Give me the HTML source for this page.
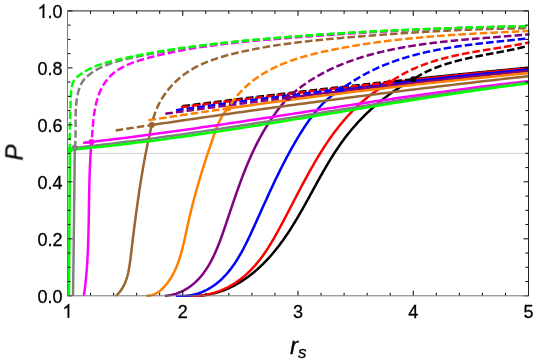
<!DOCTYPE html>
<html><head><meta charset="utf-8"><title>plot</title>
<style>
html,body{margin:0;padding:0;background:#fff;}
svg{display:block;font-family:"Liberation Sans",sans-serif;}
</style></head><body>
<svg width="534" height="362" viewBox="0 0 534 362">
<rect width="534" height="362" fill="#fff"/>
<defs><clipPath id="c"><rect x="66.30" y="9.70" width="463.60" height="287.30"/></clipPath></defs>
<line x1="67.50" x2="528.50" y1="153.35" y2="153.35" stroke="#cfcfcf" stroke-width="1"/>
<g fill="none" stroke-width="2.5" stroke-linejoin="round" clip-path="url(#c)">
<path d="M189.00 295.80 L190.73 295.87 L192.45 295.91 L194.16 295.91 L195.86 295.88 L197.55 295.81 L199.23 295.71 L200.90 295.58 L202.55 295.42 L204.20 295.22 L205.83 294.99 L207.45 294.73 L209.06 294.44 L210.66 294.13 L212.25 293.78 L213.82 293.40 L215.39 292.99 L216.94 292.56 L218.48 292.09 L220.02 291.60 L221.54 291.08 L223.04 290.54 L224.54 289.97 L226.03 289.37 L227.50 288.75 L228.96 288.10 L230.42 287.43 L231.86 286.74 L233.28 286.02 L234.70 285.28 L236.11 284.52 L237.50 283.73 L238.88 282.92 L240.26 282.09 L241.61 281.24 L242.96 280.37 L244.30 279.48 L245.62 278.57 L246.94 277.65 L248.24 276.70 L249.53 275.73 L250.81 274.75 L252.07 273.75 L253.33 272.73 L254.57 271.70 L255.80 270.65 L257.02 269.59 L258.23 268.51 L259.43 267.41 L260.61 266.30 L261.78 265.18 L262.95 264.05 L264.09 262.90 L265.23 261.74 L266.36 260.57 L267.47 259.38 L268.57 258.19 L269.66 256.98 L270.74 255.77 L271.81 254.54 L272.86 253.30 L273.90 252.06 L274.93 250.81 L275.95 249.55 L276.96 248.28 L277.96 247.00 L278.95 245.71 L279.93 244.41 L280.90 243.11 L281.86 241.80 L282.81 240.48 L283.75 239.16 L284.69 237.83 L285.61 236.49 L286.53 235.14 L287.43 233.79 L288.34 232.43 L289.23 231.07 L290.12 229.70 L290.99 228.33 L291.87 226.95 L292.73 225.56 L293.59 224.17 L294.45 222.78 L295.30 221.38 L296.14 219.97 L296.98 218.57 L297.81 217.16 L298.64 215.74 L299.47 214.32 L300.29 212.90 L301.10 211.48 L301.92 210.05 L302.73 208.62 L303.53 207.19 L304.34 205.75 L305.14 204.32 L305.94 202.88 L306.73 201.44 L307.53 200.00 L308.32 198.55 L309.11 197.11 L309.91 195.67 L310.70 194.22 L311.49 192.78 L312.28 191.33 L313.07 189.88 L313.86 188.44 L314.65 187.00 L315.44 185.55 L316.23 184.11 L317.02 182.67 L317.82 181.23 L318.62 179.79 L319.42 178.35 L320.22 176.91 L321.02 175.48 L321.83 174.05 L322.64 172.62 L323.45 171.20 L324.27 169.77 L325.09 168.35 L325.91 166.94 L326.74 165.53 L327.58 164.12 L328.42 162.71 L329.26 161.31 L330.11 159.92 L330.96 158.52 L331.82 157.14 L332.69 155.76 L333.56 154.38 L334.44 153.01 L335.33 151.64 L336.22 150.28 L337.13 148.93 L338.04 147.58 L338.95 146.24 L339.88 144.91 L340.81 143.58 L341.75 142.26 L342.71 140.95 L343.67 139.64 L344.64 138.34 L345.62 137.05 L346.60 135.77 L347.60 134.50 L348.61 133.23 L349.63 131.97 L350.66 130.72 L351.70 129.48 L352.74 128.25 L353.80 127.02 L354.87 125.81 L355.94 124.60 L357.02 123.40 L358.12 122.20 L359.22 121.02 L360.33 119.84 L361.45 118.68 L362.58 117.52 L363.72 116.37 L364.87 115.22 L366.03 114.09 L367.19 112.97 L368.37 111.85 L369.55 110.74 L370.74 109.64 L371.94 108.55 L373.15 107.47 L374.37 106.40 L375.60 105.33 L376.83 104.28 L378.07 103.23 L379.33 102.19 L380.59 101.16 L381.85 100.14 L383.13 99.13 L384.41 98.13 L385.71 97.13 L387.01 96.15 L388.32 95.17 L389.63 94.21 L390.96 93.25 L392.29 92.30 L393.63 91.36 L394.98 90.43 L396.34 89.51 L397.70 88.60 L399.07 87.70 L400.45 86.80 L401.84 85.92 L403.23 85.04 L404.63 84.18 L406.04 83.32 L407.46 82.48 L408.88 81.64 L410.32 80.81 L411.75 80.00 L413.20 79.19 L413.20 79.19 L414.66 79.03 L416.12 78.88 L417.58 78.73 L419.04 78.57 L420.50 78.42 L421.96 78.27 L423.42 78.11 L424.88 77.96 L426.34 77.81 L427.79 77.66 L429.25 77.50 L430.71 77.35 L432.17 77.20 L433.63 77.05 L435.09 76.90 L436.55 76.75 L438.01 76.60 L439.47 76.45 L440.93 76.30 L442.39 76.15 L443.85 76.00 L445.31 75.85 L446.77 75.70 L448.23 75.55 L449.69 75.40 L451.15 75.25 L452.61 75.10 L454.07 74.95 L455.53 74.81 L456.98 74.66 L458.44 74.51 L459.90 74.36 L461.36 74.22 L462.82 74.07 L464.28 73.92 L465.74 73.78 L467.20 73.63 L468.66 73.48 L470.12 73.34 L471.58 73.19 L473.04 73.05 L474.50 72.90 L475.96 72.76 L477.42 72.61 L478.88 72.47 L480.34 72.32 L481.80 72.18 L483.26 72.03 L484.72 71.89 L486.17 71.75 L487.63 71.60 L489.09 71.46 L490.55 71.32 L492.01 71.18 L493.47 71.03 L494.93 70.89 L496.39 70.75 L497.85 70.61 L499.31 70.46 L500.77 70.32 L502.23 70.18 L503.69 70.04 L505.15 69.90 L506.61 69.76 L508.07 69.62 L509.53 69.48 L510.99 69.34 L512.45 69.20 L513.91 69.06 L515.36 68.92 L516.82 68.78 L518.28 68.64 L519.74 68.50 L521.20 68.37 L522.66 68.23 L524.12 68.09 L525.58 67.95 L527.04 67.81 L528.50 67.68" stroke="#000000"/>
<path d="M186.00 295.80 L187.60 295.91 L189.19 295.99 L190.78 296.03 L192.37 296.04 L193.95 296.01 L195.53 295.96 L197.11 295.87 L198.67 295.75 L200.24 295.60 L201.80 295.42 L203.35 295.20 L204.89 294.96 L206.42 294.68 L207.95 294.38 L209.47 294.04 L210.98 293.68 L212.48 293.28 L213.97 292.86 L215.45 292.41 L216.92 291.92 L218.38 291.41 L219.82 290.88 L221.26 290.31 L222.68 289.72 L224.09 289.10 L225.48 288.45 L226.86 287.78 L228.22 287.08 L229.57 286.35 L230.91 285.60 L232.23 284.83 L233.54 284.03 L234.83 283.21 L236.11 282.36 L237.37 281.49 L238.61 280.61 L239.84 279.70 L241.06 278.77 L242.26 277.82 L243.44 276.85 L244.61 275.86 L245.76 274.86 L246.90 273.83 L248.02 272.79 L249.12 271.74 L250.21 270.66 L251.28 269.58 L252.33 268.47 L253.37 267.36 L254.39 266.23 L255.40 265.08 L256.39 263.92 L257.37 262.75 L258.33 261.57 L259.29 260.38 L260.22 259.17 L261.15 257.95 L262.06 256.72 L262.96 255.48 L263.85 254.23 L264.73 252.97 L265.60 251.70 L266.45 250.42 L267.30 249.13 L268.14 247.83 L268.97 246.53 L269.79 245.22 L270.60 243.90 L271.40 242.57 L272.20 241.24 L272.99 239.90 L273.78 238.55 L274.55 237.20 L275.33 235.84 L276.09 234.48 L276.85 233.12 L277.61 231.75 L278.37 230.38 L279.11 229.00 L279.86 227.62 L280.61 226.24 L281.35 224.86 L282.09 223.47 L282.82 222.09 L283.56 220.70 L284.29 219.31 L285.03 217.92 L285.76 216.52 L286.49 215.13 L287.22 213.74 L287.94 212.34 L288.67 210.95 L289.40 209.55 L290.12 208.15 L290.85 206.76 L291.57 205.36 L292.30 203.96 L293.02 202.56 L293.75 201.17 L294.48 199.77 L295.20 198.37 L295.93 196.97 L296.65 195.58 L297.38 194.18 L298.11 192.79 L298.84 191.40 L299.57 190.00 L300.30 188.61 L301.04 187.22 L301.77 185.83 L302.51 184.45 L303.25 183.06 L303.99 181.68 L304.73 180.30 L305.48 178.92 L306.23 177.54 L306.98 176.17 L307.73 174.79 L308.48 173.42 L309.24 172.06 L310.00 170.69 L310.77 169.33 L311.54 167.97 L312.31 166.61 L313.08 165.26 L313.86 163.91 L314.64 162.57 L315.43 161.22 L316.22 159.88 L317.02 158.55 L317.82 157.22 L318.62 155.89 L319.43 154.57 L320.24 153.25 L321.06 151.94 L321.88 150.63 L322.71 149.32 L323.55 148.02 L324.39 146.72 L325.23 145.43 L326.08 144.15 L326.94 142.87 L327.80 141.59 L328.67 140.32 L329.55 139.06 L330.43 137.80 L331.31 136.55 L332.21 135.30 L333.11 134.06 L334.02 132.83 L334.93 131.60 L335.86 130.38 L336.79 129.17 L337.72 127.96 L338.67 126.76 L339.62 125.56 L340.58 124.37 L341.55 123.19 L342.53 122.02 L343.51 120.86 L344.51 119.70 L345.51 118.55 L346.52 117.40 L347.54 116.27 L348.57 115.14 L349.60 114.02 L350.65 112.91 L351.71 111.81 L352.77 110.71 L353.85 109.63 L354.93 108.55 L356.03 107.48 L357.13 106.42 L358.25 105.37 L359.37 104.33 L360.51 103.30 L361.65 102.28 L362.81 101.26 L363.98 100.26 L365.15 99.27 L366.34 98.28 L367.54 97.31 L368.76 96.35 L369.98 95.39 L371.22 94.45 L372.46 93.52 L373.72 92.59 L374.99 91.68 L376.27 90.78 L377.57 89.89 L378.88 89.01 L380.20 88.15 L381.53 87.29 L382.88 86.44 L384.23 85.61 L385.61 84.79 L386.99 83.98 L388.39 83.18 L389.80 82.40 L389.80 82.40 L391.56 82.20 L393.31 82.01 L395.07 81.82 L396.82 81.63 L398.58 81.44 L400.33 81.25 L402.09 81.06 L403.85 80.87 L405.60 80.69 L407.36 80.50 L409.11 80.31 L410.87 80.12 L412.62 79.93 L414.38 79.75 L416.14 79.56 L417.89 79.37 L419.65 79.19 L421.40 79.00 L423.16 78.81 L424.91 78.63 L426.67 78.44 L428.43 78.26 L430.18 78.07 L431.94 77.89 L433.69 77.71 L435.45 77.52 L437.20 77.34 L438.96 77.16 L440.72 76.97 L442.47 76.79 L444.23 76.61 L445.98 76.43 L447.74 76.25 L449.49 76.07 L451.25 75.89 L453.01 75.71 L454.76 75.53 L456.52 75.35 L458.27 75.17 L460.03 74.99 L461.78 74.81 L463.54 74.63 L465.29 74.45 L467.05 74.27 L468.81 74.10 L470.56 73.92 L472.32 73.74 L474.07 73.56 L475.83 73.39 L477.58 73.21 L479.34 73.04 L481.10 72.86 L482.85 72.69 L484.61 72.51 L486.36 72.34 L488.12 72.16 L489.87 71.99 L491.63 71.81 L493.39 71.64 L495.14 71.47 L496.90 71.29 L498.65 71.12 L500.41 70.95 L502.16 70.78 L503.92 70.61 L505.68 70.44 L507.43 70.26 L509.19 70.09 L510.94 69.92 L512.70 69.75 L514.45 69.58 L516.21 69.42 L517.97 69.25 L519.72 69.08 L521.48 68.91 L523.23 68.74 L524.99 68.57 L526.74 68.41 L528.50 68.24" stroke="#ff0000"/>
<path d="M176.00 295.80 L177.53 295.92 L179.05 296.00 L180.55 296.04 L182.04 296.05 L183.51 296.01 L184.97 295.93 L186.41 295.82 L187.84 295.67 L189.26 295.49 L190.65 295.27 L192.04 295.01 L193.40 294.72 L194.76 294.40 L196.09 294.04 L197.42 293.66 L198.72 293.24 L200.01 292.79 L201.29 292.31 L202.55 291.80 L203.79 291.26 L205.02 290.70 L206.23 290.11 L207.42 289.49 L208.60 288.84 L209.76 288.17 L210.91 287.48 L212.04 286.76 L213.15 286.01 L214.25 285.25 L215.33 284.46 L216.39 283.65 L217.44 282.82 L218.47 281.97 L219.48 281.10 L220.48 280.22 L221.46 279.31 L222.43 278.38 L223.38 277.44 L224.31 276.48 L225.23 275.50 L226.14 274.50 L227.03 273.49 L227.91 272.47 L228.78 271.42 L229.63 270.37 L230.47 269.29 L231.30 268.21 L232.11 267.11 L232.92 266.00 L233.71 264.87 L234.49 263.74 L235.26 262.59 L236.02 261.43 L236.77 260.26 L237.51 259.07 L238.24 257.88 L238.96 256.68 L239.67 255.47 L240.38 254.25 L241.07 253.02 L241.76 251.79 L242.44 250.55 L243.11 249.30 L243.77 248.04 L244.43 246.78 L245.08 245.51 L245.72 244.24 L246.36 242.96 L247.00 241.68 L247.62 240.39 L248.25 239.10 L248.86 237.81 L249.48 236.51 L250.09 235.22 L250.69 233.92 L251.30 232.62 L251.89 231.32 L252.49 230.02 L253.09 228.71 L253.68 227.41 L254.27 226.11 L254.86 224.81 L255.44 223.52 L256.03 222.22 L256.61 220.93 L257.20 219.64 L257.78 218.34 L258.36 217.06 L258.94 215.77 L259.52 214.48 L260.10 213.20 L260.67 211.91 L261.25 210.63 L261.83 209.35 L262.41 208.07 L262.98 206.79 L263.56 205.52 L264.14 204.24 L264.71 202.97 L265.29 201.70 L265.87 200.43 L266.44 199.16 L267.02 197.89 L267.60 196.63 L268.18 195.37 L268.76 194.10 L269.34 192.84 L269.92 191.58 L270.50 190.33 L271.09 189.07 L271.67 187.81 L272.26 186.56 L272.85 185.31 L273.43 184.06 L274.02 182.81 L274.62 181.56 L275.21 180.32 L275.81 179.07 L276.40 177.83 L277.00 176.59 L277.60 175.35 L278.21 174.11 L278.81 172.87 L279.42 171.64 L280.03 170.41 L280.65 169.17 L281.26 167.94 L281.88 166.71 L282.51 165.49 L283.13 164.26 L283.76 163.03 L284.39 161.81 L285.02 160.59 L285.66 159.37 L286.30 158.15 L286.95 156.93 L287.60 155.72 L288.25 154.50 L288.90 153.29 L289.56 152.08 L290.23 150.87 L290.90 149.66 L291.57 148.46 L292.24 147.25 L292.92 146.05 L293.61 144.85 L294.30 143.64 L294.99 142.45 L295.69 141.25 L296.40 140.05 L297.11 138.86 L297.82 137.66 L298.54 136.47 L299.26 135.28 L299.99 134.09 L300.73 132.91 L301.47 131.72 L302.21 130.54 L302.97 129.36 L303.73 128.19 L304.49 127.02 L305.27 125.85 L306.05 124.68 L306.83 123.53 L307.63 122.37 L308.43 121.23 L309.24 120.09 L310.06 118.95 L310.89 117.83 L311.73 116.71 L312.58 115.59 L313.43 114.49 L314.30 113.39 L315.18 112.31 L316.06 111.23 L316.96 110.16 L317.87 109.11 L318.78 108.06 L319.71 107.03 L320.65 106.00 L321.60 104.99 L322.57 103.99 L323.54 103.00 L324.53 102.02 L325.53 101.06 L326.55 100.12 L327.57 99.18 L328.61 98.26 L329.67 97.36 L330.73 96.47 L331.81 95.59 L332.91 94.74 L334.02 93.90 L335.15 93.07 L336.29 92.27 L337.44 91.48 L338.61 90.70 L339.80 89.95 L341.00 89.22 L341.00 89.22 L343.37 88.94 L345.75 88.66 L348.12 88.39 L350.49 88.11 L352.87 87.84 L355.24 87.57 L357.61 87.29 L359.99 87.02 L362.36 86.75 L364.73 86.48 L367.11 86.21 L369.48 85.94 L371.85 85.67 L374.23 85.40 L376.60 85.13 L378.97 84.87 L381.35 84.60 L383.72 84.34 L386.09 84.07 L388.47 83.81 L390.84 83.54 L393.22 83.28 L395.59 83.02 L397.96 82.76 L400.34 82.50 L402.71 82.24 L405.08 81.98 L407.46 81.72 L409.83 81.46 L412.20 81.21 L414.58 80.95 L416.95 80.69 L419.32 80.44 L421.70 80.19 L424.07 79.93 L426.44 79.68 L428.82 79.43 L431.19 79.18 L433.56 78.92 L435.94 78.67 L438.31 78.43 L440.68 78.18 L443.06 77.93 L445.43 77.68 L447.80 77.44 L450.18 77.19 L452.55 76.94 L454.92 76.70 L457.30 76.46 L459.67 76.21 L462.04 75.97 L464.42 75.73 L466.79 75.49 L469.16 75.25 L471.54 75.01 L473.91 74.77 L476.28 74.53 L478.66 74.29 L481.03 74.06 L483.41 73.82 L485.78 73.59 L488.15 73.35 L490.53 73.12 L492.90 72.88 L495.27 72.65 L497.65 72.42 L500.02 72.19 L502.39 71.96 L504.77 71.73 L507.14 71.50 L509.51 71.27 L511.89 71.04 L514.26 70.82 L516.63 70.59 L519.01 70.36 L521.38 70.14 L523.75 69.91 L526.13 69.69 L528.50 69.47" stroke="#0000ff"/>
<path d="M165.00 295.80 L166.33 295.68 L167.64 295.53 L168.93 295.34 L170.20 295.12 L171.45 294.87 L172.69 294.59 L173.91 294.28 L175.11 293.95 L176.29 293.58 L177.45 293.18 L178.60 292.76 L179.73 292.31 L180.84 291.84 L181.94 291.34 L183.01 290.82 L184.07 290.27 L185.11 289.70 L186.14 289.11 L187.15 288.49 L188.14 287.86 L189.11 287.20 L190.07 286.53 L191.01 285.84 L191.94 285.12 L192.84 284.40 L193.73 283.65 L194.61 282.89 L195.47 282.11 L196.31 281.31 L197.14 280.50 L197.95 279.68 L198.75 278.84 L199.53 277.98 L200.30 277.11 L201.06 276.23 L201.80 275.33 L202.53 274.42 L203.24 273.49 L203.94 272.55 L204.63 271.60 L205.31 270.64 L205.97 269.67 L206.63 268.68 L207.27 267.68 L207.90 266.67 L208.52 265.65 L209.12 264.63 L209.72 263.59 L210.31 262.54 L210.89 261.48 L211.46 260.41 L212.01 259.34 L212.56 258.25 L213.10 257.16 L213.64 256.06 L214.16 254.95 L214.68 253.84 L215.18 252.71 L215.68 251.59 L216.18 250.45 L216.66 249.31 L217.14 248.17 L217.62 247.02 L218.08 245.86 L218.54 244.70 L219.00 243.54 L219.45 242.37 L219.89 241.20 L220.33 240.02 L220.77 238.84 L221.20 237.66 L221.63 236.48 L222.05 235.30 L222.47 234.11 L222.89 232.92 L223.30 231.73 L223.72 230.54 L224.13 229.35 L224.53 228.16 L224.94 226.97 L225.34 225.78 L225.74 224.60 L226.15 223.41 L226.55 222.22 L226.95 221.04 L227.34 219.85 L227.74 218.67 L228.14 217.49 L228.54 216.31 L228.93 215.13 L229.33 213.95 L229.72 212.78 L230.12 211.60 L230.51 210.43 L230.91 209.26 L231.31 208.08 L231.70 206.91 L232.10 205.75 L232.49 204.58 L232.89 203.41 L233.29 202.25 L233.68 201.09 L234.08 199.93 L234.48 198.77 L234.88 197.61 L235.28 196.45 L235.68 195.30 L236.08 194.14 L236.48 192.99 L236.89 191.84 L237.30 190.69 L237.70 189.54 L238.11 188.40 L238.52 187.25 L238.93 186.11 L239.35 184.97 L239.76 183.83 L240.18 182.69 L240.60 181.56 L241.02 180.42 L241.44 179.29 L241.87 178.16 L242.30 177.03 L242.73 175.90 L243.16 174.78 L243.60 173.65 L244.03 172.53 L244.47 171.41 L244.92 170.30 L245.36 169.18 L245.81 168.07 L246.27 166.95 L246.72 165.84 L247.18 164.74 L247.64 163.63 L248.11 162.52 L248.58 161.42 L249.05 160.32 L249.53 159.22 L250.01 158.13 L250.49 157.03 L250.98 155.94 L251.47 154.85 L251.97 153.76 L252.47 152.68 L252.97 151.60 L253.48 150.51 L253.99 149.44 L254.51 148.36 L255.03 147.28 L255.56 146.21 L256.09 145.14 L256.63 144.07 L257.17 143.01 L257.72 141.94 L258.27 140.88 L258.83 139.82 L259.39 138.77 L259.95 137.71 L260.53 136.66 L261.11 135.61 L261.69 134.57 L262.28 133.52 L262.87 132.48 L263.48 131.44 L264.08 130.40 L264.70 129.37 L265.31 128.34 L265.94 127.31 L266.57 126.28 L267.21 125.26 L267.85 124.24 L268.51 123.22 L269.16 122.20 L269.83 121.19 L270.50 120.18 L271.18 119.17 L271.86 118.16 L272.55 117.16 L273.25 116.16 L273.96 115.16 L274.67 114.17 L275.39 113.17 L276.12 112.18 L276.86 111.20 L277.60 110.21 L278.35 109.23 L279.11 108.25 L279.88 107.28 L280.65 106.31 L281.44 105.34 L282.23 104.37 L283.03 103.41 L283.83 102.45 L284.65 101.49 L285.48 100.53 L286.31 99.58 L287.15 98.63 L288.00 97.69 L288.00 97.69 L291.04 97.31 L294.09 96.93 L297.13 96.55 L300.18 96.18 L303.22 95.80 L306.27 95.43 L309.31 95.06 L312.35 94.69 L315.40 94.32 L318.44 93.95 L321.49 93.58 L324.53 93.21 L327.58 92.85 L330.62 92.48 L333.66 92.12 L336.71 91.75 L339.75 91.39 L342.80 91.03 L345.84 90.67 L348.89 90.31 L351.93 89.95 L354.97 89.60 L358.02 89.24 L361.06 88.89 L364.11 88.53 L367.15 88.18 L370.20 87.83 L373.24 87.48 L376.28 87.13 L379.33 86.78 L382.37 86.43 L385.42 86.08 L388.46 85.74 L391.51 85.39 L394.55 85.05 L397.59 84.70 L400.64 84.36 L403.68 84.02 L406.73 83.68 L409.77 83.34 L412.82 83.01 L415.86 82.67 L418.91 82.33 L421.95 82.00 L424.99 81.66 L428.04 81.33 L431.08 81.00 L434.13 80.67 L437.17 80.34 L440.22 80.01 L443.26 79.68 L446.30 79.36 L449.35 79.03 L452.39 78.71 L455.44 78.38 L458.48 78.06 L461.53 77.74 L464.57 77.42 L467.61 77.10 L470.66 76.78 L473.70 76.46 L476.75 76.15 L479.79 75.83 L482.84 75.52 L485.88 75.20 L488.92 74.89 L491.97 74.58 L495.01 74.27 L498.06 73.96 L501.10 73.65 L504.15 73.34 L507.19 73.04 L510.23 72.73 L513.28 72.43 L516.32 72.12 L519.37 71.82 L522.41 71.52 L525.46 71.22 L528.50 70.92" stroke="#800080"/>
<path d="M146.50 295.80 L147.67 295.79 L148.80 295.70 L149.90 295.56 L150.97 295.35 L152.01 295.09 L153.02 294.77 L154.00 294.40 L154.96 293.98 L155.89 293.52 L156.79 293.02 L157.67 292.47 L158.53 291.89 L159.36 291.28 L160.18 290.63 L160.97 289.96 L161.74 289.27 L162.49 288.55 L163.22 287.82 L163.94 287.07 L164.64 286.31 L165.32 285.54 L165.99 284.76 L166.64 283.96 L167.28 283.15 L167.90 282.34 L168.51 281.51 L169.10 280.67 L169.68 279.82 L170.24 278.96 L170.79 278.09 L171.33 277.21 L171.86 276.33 L172.37 275.43 L172.87 274.52 L173.35 273.61 L173.83 272.69 L174.29 271.75 L174.74 270.81 L175.18 269.87 L175.61 268.91 L176.03 267.95 L176.44 266.98 L176.84 266.00 L177.23 265.02 L177.61 264.03 L177.98 263.04 L178.34 262.03 L178.70 261.03 L179.04 260.01 L179.38 259.00 L179.71 257.97 L180.04 256.95 L180.35 255.91 L180.66 254.88 L180.96 253.84 L181.26 252.79 L181.55 251.74 L181.83 250.69 L182.11 249.63 L182.39 248.58 L182.66 247.51 L182.92 246.45 L183.18 245.39 L183.44 244.32 L183.69 243.25 L183.94 242.18 L184.19 241.10 L184.43 240.03 L184.67 238.95 L184.91 237.88 L185.15 236.80 L185.38 235.72 L185.61 234.65 L185.85 233.57 L186.08 232.49 L186.31 231.42 L186.54 230.34 L186.77 229.27 L187.00 228.20 L187.24 227.13 L187.47 226.06 L187.70 224.99 L187.94 223.93 L188.18 222.87 L188.42 221.81 L188.66 220.75 L188.90 219.69 L189.14 218.64 L189.38 217.59 L189.63 216.54 L189.88 215.49 L190.13 214.44 L190.38 213.40 L190.63 212.36 L190.88 211.32 L191.14 210.28 L191.40 209.24 L191.66 208.21 L191.91 207.17 L192.18 206.14 L192.44 205.11 L192.70 204.08 L192.97 203.06 L193.24 202.03 L193.50 201.01 L193.77 199.98 L194.05 198.96 L194.32 197.94 L194.59 196.92 L194.87 195.90 L195.15 194.89 L195.42 193.87 L195.70 192.85 L195.99 191.84 L196.27 190.83 L196.55 189.82 L196.84 188.80 L197.13 187.79 L197.41 186.78 L197.70 185.78 L198.00 184.77 L198.29 183.76 L198.58 182.75 L198.88 181.75 L199.18 180.74 L199.47 179.74 L199.77 178.73 L200.07 177.73 L200.38 176.72 L200.68 175.72 L200.99 174.72 L201.29 173.71 L201.60 172.71 L201.91 171.71 L202.22 170.70 L202.53 169.70 L202.85 168.70 L203.16 167.70 L203.48 166.69 L203.79 165.69 L204.11 164.69 L204.43 163.68 L204.76 162.68 L205.08 161.68 L205.40 160.67 L205.73 159.67 L206.05 158.66 L206.38 157.66 L206.71 156.65 L207.04 155.65 L207.37 154.64 L207.71 153.63 L208.04 152.63 L208.38 151.62 L208.71 150.61 L209.05 149.60 L209.39 148.59 L209.73 147.57 L210.08 146.56 L210.42 145.55 L210.76 144.53 L211.11 143.52 L211.46 142.50 L211.81 141.48 L212.16 140.46 L212.51 139.44 L212.86 138.42 L213.21 137.40 L213.57 136.38 L213.92 135.35 L214.28 134.32 L214.64 133.30 L215.00 132.27 L215.37 131.24 L215.74 130.22 L216.11 129.19 L216.49 128.17 L216.88 127.16 L217.28 126.15 L217.69 125.15 L218.10 124.15 L218.53 123.16 L218.97 122.18 L219.42 121.21 L219.89 120.24 L220.37 119.29 L220.87 118.36 L221.38 117.43 L221.91 116.52 L222.46 115.62 L223.03 114.74 L223.62 113.88 L224.23 113.03 L224.87 112.20 L225.52 111.39 L226.20 110.60 L226.91 109.83 L227.64 109.08 L228.40 108.35 L228.40 108.35 L232.20 107.81 L236.00 107.28 L239.80 106.74 L243.59 106.21 L247.39 105.68 L251.19 105.16 L254.99 104.63 L258.79 104.11 L262.59 103.59 L266.39 103.07 L270.19 102.56 L273.98 102.05 L277.78 101.54 L281.58 101.03 L285.38 100.52 L289.18 100.02 L292.98 99.52 L296.78 99.02 L300.58 98.53 L304.37 98.04 L308.17 97.54 L311.97 97.06 L315.77 96.57 L319.57 96.09 L323.37 95.61 L327.17 95.13 L330.97 94.65 L334.76 94.18 L338.56 93.70 L342.36 93.23 L346.16 92.77 L349.96 92.30 L353.76 91.84 L357.56 91.38 L361.36 90.92 L365.15 90.47 L368.95 90.02 L372.75 89.57 L376.55 89.12 L380.35 88.67 L384.15 88.23 L387.95 87.79 L391.75 87.35 L395.54 86.91 L399.34 86.48 L403.14 86.05 L406.94 85.62 L410.74 85.19 L414.54 84.77 L418.34 84.35 L422.14 83.93 L425.93 83.51 L429.73 83.10 L433.53 82.69 L437.33 82.28 L441.13 81.87 L444.93 81.46 L448.73 81.06 L452.53 80.66 L456.32 80.26 L460.12 79.87 L463.92 79.47 L467.72 79.08 L471.52 78.69 L475.32 78.31 L479.12 77.93 L482.92 77.54 L486.71 77.17 L490.51 76.79 L494.31 76.41 L498.11 76.04 L501.91 75.67 L505.71 75.31 L509.51 74.94 L513.31 74.58 L517.10 74.22 L520.90 73.86 L524.70 73.51 L528.50 73.16" stroke="#ff8000"/>
<path d="M116.00 295.80 L116.65 295.21 L117.29 294.60 L117.90 293.98 L118.49 293.35 L119.06 292.71 L119.61 292.06 L120.14 291.39 L120.65 290.71 L121.14 290.02 L121.62 289.33 L122.07 288.62 L122.52 287.90 L122.94 287.17 L123.35 286.43 L123.74 285.68 L124.12 284.93 L124.48 284.16 L124.82 283.39 L125.16 282.61 L125.48 281.82 L125.78 281.02 L126.08 280.22 L126.36 279.40 L126.62 278.59 L126.88 277.76 L127.13 276.93 L127.36 276.09 L127.59 275.25 L127.80 274.40 L128.01 273.54 L128.21 272.69 L128.39 271.82 L128.58 270.95 L128.75 270.08 L128.91 269.20 L129.07 268.32 L129.22 267.44 L129.37 266.56 L129.51 265.67 L129.65 264.77 L129.78 263.88 L129.91 262.98 L130.03 262.09 L130.15 261.19 L130.26 260.29 L130.38 259.39 L130.49 258.48 L130.60 257.58 L130.71 256.68 L130.82 255.78 L130.93 254.88 L131.04 253.98 L131.14 253.07 L131.25 252.17 L131.36 251.28 L131.47 250.38 L131.58 249.48 L131.69 248.58 L131.80 247.68 L131.90 246.79 L132.01 245.89 L132.12 245.00 L132.23 244.10 L132.34 243.21 L132.45 242.32 L132.56 241.42 L132.67 240.53 L132.78 239.64 L132.89 238.75 L132.99 237.86 L133.10 236.97 L133.21 236.08 L133.32 235.19 L133.44 234.30 L133.55 233.41 L133.66 232.52 L133.77 231.63 L133.88 230.75 L133.99 229.86 L134.10 228.98 L134.21 228.09 L134.33 227.20 L134.44 226.32 L134.55 225.44 L134.67 224.55 L134.78 223.67 L134.89 222.79 L135.01 221.90 L135.12 221.02 L135.24 220.14 L135.35 219.26 L135.47 218.38 L135.58 217.50 L135.70 216.62 L135.81 215.74 L135.93 214.86 L136.05 213.98 L136.17 213.10 L136.28 212.22 L136.40 211.34 L136.52 210.46 L136.64 209.59 L136.76 208.71 L136.88 207.83 L137.00 206.96 L137.12 206.08 L137.25 205.20 L137.37 204.33 L137.49 203.45 L137.61 202.58 L137.74 201.70 L137.86 200.83 L137.99 199.95 L138.11 199.08 L138.24 198.20 L138.37 197.33 L138.49 196.46 L138.62 195.58 L138.75 194.71 L138.88 193.84 L139.01 192.97 L139.14 192.09 L139.27 191.22 L139.40 190.35 L139.53 189.48 L139.66 188.61 L139.80 187.73 L139.93 186.86 L140.07 185.99 L140.20 185.12 L140.34 184.25 L140.48 183.38 L140.61 182.51 L140.75 181.64 L140.89 180.77 L141.03 179.90 L141.17 179.02 L141.31 178.15 L141.46 177.28 L141.60 176.41 L141.74 175.54 L141.89 174.67 L142.03 173.80 L142.18 172.93 L142.33 172.06 L142.47 171.19 L142.62 170.33 L142.77 169.46 L142.92 168.59 L143.07 167.72 L143.23 166.85 L143.38 165.98 L143.53 165.11 L143.69 164.24 L143.84 163.37 L144.00 162.50 L144.16 161.63 L144.32 160.76 L144.48 159.89 L144.64 159.02 L144.80 158.15 L144.96 157.28 L145.12 156.41 L145.29 155.54 L145.45 154.67 L145.62 153.80 L145.79 152.93 L145.96 152.06 L146.13 151.19 L146.30 150.32 L146.47 149.45 L146.64 148.58 L146.82 147.70 L146.99 146.83 L147.17 145.96 L147.35 145.09 L147.52 144.22 L147.70 143.35 L147.88 142.47 L148.07 141.60 L148.25 140.73 L148.43 139.86 L148.62 138.99 L148.80 138.11 L148.99 137.24 L149.18 136.37 L149.37 135.49 L149.56 134.62 L149.76 133.75 L149.95 132.87 L150.14 132.00 L150.34 131.12 L150.54 130.25 L150.74 129.37 L150.94 128.50 L151.14 127.62 L151.34 126.74 L151.54 125.87 L151.75 124.99 L151.75 124.99 L156.52 124.28 L161.29 123.57 L166.06 122.87 L170.83 122.16 L175.59 121.46 L180.36 120.77 L185.13 120.07 L189.90 119.38 L194.67 118.68 L199.44 118.00 L204.21 117.31 L208.98 116.62 L213.75 115.94 L218.52 115.26 L223.28 114.59 L228.05 113.91 L232.82 113.24 L237.59 112.57 L242.36 111.90 L247.13 111.24 L251.90 110.57 L256.67 109.91 L261.44 109.25 L266.21 108.60 L270.97 107.95 L275.74 107.29 L280.51 106.65 L285.28 106.00 L290.05 105.36 L294.82 104.71 L299.59 104.08 L304.36 103.44 L309.13 102.80 L313.90 102.17 L318.66 101.54 L323.43 100.92 L328.20 100.29 L332.97 99.67 L337.74 99.05 L342.51 98.43 L347.28 97.82 L352.05 97.20 L356.82 96.59 L361.59 95.98 L366.35 95.38 L371.12 94.77 L375.89 94.17 L380.66 93.57 L385.43 92.98 L390.20 92.38 L394.97 91.79 L399.74 91.20 L404.51 90.62 L409.28 90.03 L414.04 89.45 L418.81 88.87 L423.58 88.29 L428.35 87.72 L433.12 87.15 L437.89 86.58 L442.66 86.01 L447.43 85.44 L452.20 84.88 L456.97 84.32 L461.73 83.76 L466.50 83.20 L471.27 82.65 L476.04 82.10 L480.81 81.55 L485.58 81.00 L490.35 80.46 L495.12 79.92 L499.89 79.38 L504.66 78.84 L509.42 78.31 L514.19 77.78 L518.96 77.25 L523.73 76.72 L528.50 76.19" stroke="#996633"/>
<path d="M83.90 295.80 L84.01 295.03 L84.12 294.27 L84.22 293.50 L84.32 292.73 L84.43 291.96 L84.53 291.20 L84.62 290.43 L84.72 289.66 L84.82 288.89 L84.91 288.13 L85.00 287.36 L85.09 286.59 L85.18 285.82 L85.27 285.05 L85.36 284.28 L85.44 283.51 L85.52 282.75 L85.60 281.98 L85.68 281.21 L85.76 280.44 L85.84 279.67 L85.92 278.90 L85.99 278.13 L86.06 277.36 L86.14 276.59 L86.21 275.82 L86.27 275.05 L86.34 274.28 L86.41 273.51 L86.47 272.74 L86.54 271.97 L86.60 271.20 L86.66 270.42 L86.72 269.65 L86.78 268.88 L86.84 268.11 L86.90 267.34 L86.95 266.57 L87.01 265.80 L87.06 265.02 L87.11 264.25 L87.16 263.48 L87.21 262.71 L87.26 261.94 L87.31 261.16 L87.36 260.39 L87.40 259.62 L87.45 258.85 L87.49 258.07 L87.53 257.30 L87.57 256.53 L87.62 255.76 L87.66 254.98 L87.69 254.21 L87.73 253.44 L87.77 252.66 L87.81 251.89 L87.84 251.12 L87.88 250.34 L87.91 249.57 L87.94 248.80 L87.98 248.02 L88.01 247.25 L88.04 246.48 L88.07 245.70 L88.10 244.93 L88.13 244.15 L88.15 243.38 L88.18 242.61 L88.21 241.83 L88.23 241.06 L88.26 240.28 L88.28 239.51 L88.31 238.73 L88.33 237.96 L88.35 237.19 L88.37 236.41 L88.40 235.64 L88.42 234.86 L88.44 234.09 L88.46 233.31 L88.48 232.54 L88.50 231.76 L88.51 230.99 L88.53 230.21 L88.55 229.44 L88.57 228.66 L88.58 227.89 L88.60 227.11 L88.62 226.34 L88.63 225.56 L88.65 224.79 L88.66 224.01 L88.68 223.24 L88.69 222.46 L88.71 221.68 L88.72 220.91 L88.73 220.13 L88.75 219.36 L88.76 218.58 L88.77 217.81 L88.79 217.03 L88.80 216.26 L88.81 215.48 L88.82 214.71 L88.84 213.93 L88.85 213.15 L88.86 212.38 L88.87 211.60 L88.88 210.83 L88.90 210.05 L88.91 209.28 L88.92 208.50 L88.93 207.72 L88.94 206.95 L88.95 206.17 L88.97 205.40 L88.98 204.62 L88.99 203.85 L89.00 203.07 L89.01 202.29 L89.03 201.52 L89.04 200.74 L89.05 199.97 L89.06 199.19 L89.08 198.42 L89.09 197.64 L89.10 196.86 L89.12 196.09 L89.13 195.31 L89.14 194.54 L89.16 193.76 L89.17 192.99 L89.19 192.21 L89.20 191.43 L89.22 190.66 L89.23 189.88 L89.25 189.11 L89.27 188.33 L89.28 187.56 L89.30 186.78 L89.32 186.01 L89.34 185.23 L89.35 184.46 L89.37 183.68 L89.39 182.91 L89.41 182.13 L89.43 181.36 L89.45 180.58 L89.48 179.81 L89.50 179.03 L89.52 178.26 L89.54 177.48 L89.57 176.71 L89.59 175.93 L89.62 175.16 L89.64 174.38 L89.67 173.61 L89.70 172.83 L89.72 172.06 L89.75 171.28 L89.78 170.51 L89.81 169.73 L89.84 168.96 L89.87 168.18 L89.90 167.41 L89.94 166.64 L89.97 165.86 L90.01 165.09 L90.04 164.31 L90.08 163.54 L90.11 162.77 L90.15 161.99 L90.19 161.22 L90.23 160.44 L90.27 159.67 L90.31 158.90 L90.36 158.12 L90.40 157.35 L90.44 156.58 L90.49 155.80 L90.54 155.03 L90.58 154.26 L90.63 153.49 L90.68 152.71 L90.73 151.94 L90.79 151.17 L90.84 150.39 L90.89 149.62 L90.95 148.85 L91.00 148.08 L91.06 147.31 L91.12 146.53 L91.18 145.76 L91.24 144.99 L91.31 144.22 L91.37 143.45 L91.43 142.67 L91.50 141.90 L91.50 141.90 L97.03 141.26 L102.56 140.61 L108.09 139.94 L113.63 139.27 L119.16 138.58 L124.69 137.89 L130.22 137.19 L135.75 136.48 L141.28 135.76 L146.82 135.03 L152.35 134.29 L157.88 133.55 L163.41 132.80 L168.94 132.04 L174.47 131.27 L180.01 130.50 L185.54 129.72 L191.07 128.94 L196.60 128.15 L202.13 127.35 L207.66 126.55 L213.20 125.75 L218.73 124.94 L224.26 124.12 L229.79 123.30 L235.32 122.48 L240.85 121.66 L246.39 120.83 L251.92 120.00 L257.45 119.16 L262.98 118.33 L268.51 117.49 L274.04 116.65 L279.58 115.81 L285.11 114.97 L290.64 114.13 L296.17 113.28 L301.70 112.44 L307.23 111.59 L312.77 110.75 L318.30 109.91 L323.83 109.07 L329.36 108.23 L334.89 107.39 L340.42 106.55 L345.96 105.72 L351.49 104.88 L357.02 104.05 L362.55 103.23 L368.08 102.40 L373.61 101.58 L379.15 100.77 L384.68 99.95 L390.21 99.15 L395.74 98.34 L401.27 97.54 L406.80 96.75 L412.34 95.96 L417.87 95.18 L423.40 94.41 L428.93 93.64 L434.46 92.87 L439.99 92.12 L445.53 91.37 L451.06 90.63 L456.59 89.90 L462.12 89.17 L467.65 88.45 L473.18 87.75 L478.72 87.05 L484.25 86.36 L489.78 85.68 L495.31 85.01 L500.84 84.35 L506.37 83.70 L511.91 83.06 L517.44 82.43 L522.97 81.82 L528.50 81.21" stroke="#ff00ff"/>
<path d="M83.00 142.87 L91.50 141.90" stroke="#ff00ff"/>
<path d="M73.00 295.80 L73.01 295.06 L73.02 294.31 L73.03 293.57 L73.04 292.82 L73.05 292.08 L73.06 291.34 L73.07 290.59 L73.09 289.85 L73.10 289.10 L73.11 288.36 L73.12 287.62 L73.13 286.87 L73.14 286.13 L73.15 285.38 L73.16 284.64 L73.17 283.89 L73.18 283.15 L73.19 282.41 L73.20 281.66 L73.21 280.92 L73.22 280.17 L73.23 279.43 L73.24 278.69 L73.25 277.94 L73.26 277.20 L73.27 276.45 L73.28 275.71 L73.29 274.97 L73.30 274.22 L73.31 273.48 L73.32 272.73 L73.33 271.99 L73.34 271.25 L73.35 270.50 L73.36 269.76 L73.37 269.01 L73.38 268.27 L73.39 267.52 L73.40 266.78 L73.41 266.04 L73.42 265.29 L73.43 264.55 L73.44 263.80 L73.45 263.06 L73.46 262.32 L73.47 261.57 L73.48 260.83 L73.49 260.08 L73.50 259.34 L73.51 258.60 L73.52 257.85 L73.53 257.11 L73.54 256.36 L73.55 255.62 L73.56 254.87 L73.57 254.13 L73.58 253.39 L73.59 252.64 L73.59 251.90 L73.60 251.15 L73.61 250.41 L73.62 249.67 L73.63 248.92 L73.64 248.18 L73.65 247.43 L73.66 246.69 L73.67 245.95 L73.68 245.20 L73.69 244.46 L73.70 243.71 L73.71 242.97 L73.72 242.23 L73.73 241.48 L73.74 240.74 L73.74 239.99 L73.75 239.25 L73.76 238.50 L73.77 237.76 L73.78 237.02 L73.79 236.27 L73.80 235.53 L73.81 234.78 L73.82 234.04 L73.83 233.30 L73.84 232.55 L73.84 231.81 L73.85 231.06 L73.86 230.32 L73.87 229.58 L73.88 228.83 L73.89 228.09 L73.90 227.34 L73.91 226.60 L73.92 225.85 L73.93 225.11 L73.93 224.37 L73.94 223.62 L73.95 222.88 L73.96 222.13 L73.97 221.39 L73.98 220.65 L73.99 219.90 L74.00 219.16 L74.01 218.41 L74.01 217.67 L74.02 216.93 L74.03 216.18 L74.04 215.44 L74.05 214.69 L74.06 213.95 L74.07 213.20 L74.08 212.46 L74.08 211.72 L74.09 210.97 L74.10 210.23 L74.11 209.48 L74.12 208.74 L74.13 208.00 L74.14 207.25 L74.14 206.51 L74.15 205.76 L74.16 205.02 L74.17 204.28 L74.18 203.53 L74.19 202.79 L74.20 202.04 L74.20 201.30 L74.21 200.56 L74.22 199.81 L74.23 199.07 L74.24 198.32 L74.25 197.58 L74.26 196.83 L74.26 196.09 L74.27 195.35 L74.28 194.60 L74.29 193.86 L74.30 193.11 L74.31 192.37 L74.31 191.63 L74.32 190.88 L74.33 190.14 L74.34 189.39 L74.35 188.65 L74.36 187.91 L74.36 187.16 L74.37 186.42 L74.38 185.67 L74.39 184.93 L74.40 184.18 L74.41 183.44 L74.41 182.70 L74.42 181.95 L74.43 181.21 L74.44 180.46 L74.45 179.72 L74.46 178.98 L74.46 178.23 L74.47 177.49 L74.48 176.74 L74.49 176.00 L74.50 175.26 L74.51 174.51 L74.51 173.77 L74.52 173.02 L74.53 172.28 L74.54 171.53 L74.55 170.79 L74.56 170.05 L74.56 169.30 L74.57 168.56 L74.58 167.81 L74.59 167.07 L74.60 166.33 L74.60 165.58 L74.61 164.84 L74.62 164.09 L74.63 163.35 L74.64 162.61 L74.65 161.86 L74.65 161.12 L74.66 160.37 L74.67 159.63 L74.68 158.88 L74.69 158.14 L74.69 157.40 L74.70 156.65 L74.71 155.91 L74.72 155.16 L74.73 154.42 L74.73 153.68 L74.74 152.93 L74.75 152.19 L74.76 151.44 L74.77 150.70 L74.78 149.96 L74.78 149.21 L74.79 148.47 L74.80 147.72 L74.80 147.72 L80.54 147.13 L86.29 146.52 L92.03 145.90 L97.77 145.26 L103.52 144.60 L109.26 143.93 L115.00 143.25 L120.74 142.56 L126.49 141.85 L132.23 141.13 L137.97 140.40 L143.72 139.65 L149.46 138.90 L155.20 138.13 L160.95 137.35 L166.69 136.56 L172.43 135.76 L178.17 134.96 L183.92 134.14 L189.66 133.31 L195.40 132.48 L201.15 131.64 L206.89 130.79 L212.63 129.93 L218.38 129.06 L224.12 128.19 L229.86 127.32 L235.61 126.43 L241.35 125.54 L247.09 124.65 L252.83 123.75 L258.58 122.85 L264.32 121.94 L270.06 121.03 L275.81 120.12 L281.55 119.20 L287.29 118.28 L293.04 117.36 L298.78 116.44 L304.52 115.51 L310.26 114.59 L316.01 113.66 L321.75 112.74 L327.49 111.81 L333.24 110.89 L338.98 109.96 L344.72 109.04 L350.47 108.12 L356.21 107.20 L361.95 106.28 L367.69 105.36 L373.44 104.45 L379.18 103.55 L384.92 102.64 L390.67 101.74 L396.41 100.85 L402.15 99.96 L407.90 99.07 L413.64 98.19 L419.38 97.32 L425.13 96.45 L430.87 95.60 L436.61 94.74 L442.35 93.90 L448.10 93.06 L453.84 92.23 L459.58 91.41 L465.33 90.60 L471.07 89.80 L476.81 89.01 L482.56 88.23 L488.30 87.46 L494.04 86.70 L499.78 85.96 L505.53 85.22 L511.27 84.50 L517.01 83.79 L522.76 83.09 L528.50 82.40" stroke="#808080"/>
<path d="M69.00 295.80 L69.00 295.07 L69.01 294.33 L69.01 293.60 L69.01 292.87 L69.02 292.13 L69.02 291.40 L69.02 290.66 L69.03 289.93 L69.03 289.20 L69.03 288.46 L69.04 287.73 L69.04 287.00 L69.04 286.26 L69.05 285.53 L69.05 284.79 L69.05 284.06 L69.06 283.33 L69.06 282.59 L69.06 281.86 L69.07 281.13 L69.07 280.39 L69.07 279.66 L69.08 278.92 L69.08 278.19 L69.08 277.46 L69.09 276.72 L69.09 275.99 L69.10 275.26 L69.10 274.52 L69.10 273.79 L69.11 273.05 L69.11 272.32 L69.11 271.59 L69.12 270.85 L69.12 270.12 L69.13 269.39 L69.13 268.65 L69.13 267.92 L69.14 267.19 L69.14 266.45 L69.15 265.72 L69.15 264.98 L69.15 264.25 L69.16 263.52 L69.16 262.78 L69.17 262.05 L69.17 261.32 L69.18 260.58 L69.18 259.85 L69.18 259.11 L69.19 258.38 L69.19 257.65 L69.20 256.91 L69.20 256.18 L69.21 255.45 L69.21 254.71 L69.21 253.98 L69.22 253.24 L69.22 252.51 L69.23 251.78 L69.23 251.04 L69.24 250.31 L69.24 249.58 L69.25 248.84 L69.25 248.11 L69.25 247.38 L69.26 246.64 L69.26 245.91 L69.27 245.17 L69.27 244.44 L69.28 243.71 L69.28 242.97 L69.29 242.24 L69.29 241.51 L69.30 240.77 L69.30 240.04 L69.30 239.30 L69.31 238.57 L69.31 237.84 L69.32 237.10 L69.32 236.37 L69.33 235.64 L69.33 234.90 L69.34 234.17 L69.35 233.43 L69.35 232.70 L69.36 231.97 L69.36 231.23 L69.37 230.50 L69.37 229.77 L69.38 229.03 L69.39 228.30 L69.39 227.57 L69.40 226.83 L69.40 226.10 L69.41 225.36 L69.42 224.63 L69.42 223.90 L69.43 223.16 L69.43 222.43 L69.44 221.70 L69.45 220.96 L69.45 220.23 L69.46 219.49 L69.47 218.76 L69.47 218.03 L69.48 217.29 L69.48 216.56 L69.49 215.83 L69.50 215.09 L69.50 214.36 L69.51 213.63 L69.51 212.89 L69.52 212.16 L69.52 211.42 L69.53 210.69 L69.54 209.96 L69.54 209.22 L69.55 208.49 L69.55 207.76 L69.56 207.02 L69.56 206.29 L69.57 205.55 L69.57 204.82 L69.58 204.09 L69.58 203.35 L69.59 202.62 L69.59 201.89 L69.59 201.15 L69.60 200.42 L69.60 199.68 L69.61 198.95 L69.61 198.22 L69.61 197.48 L69.62 196.75 L69.62 196.02 L69.62 195.28 L69.63 194.55 L69.63 193.82 L69.64 193.08 L69.64 192.35 L69.64 191.61 L69.65 190.88 L69.65 190.15 L69.65 189.41 L69.66 188.68 L69.66 187.95 L69.66 187.21 L69.67 186.48 L69.67 185.74 L69.68 185.01 L69.68 184.28 L69.68 183.54 L69.69 182.81 L69.69 182.08 L69.69 181.34 L69.70 180.61 L69.70 179.87 L69.70 179.14 L69.71 178.41 L69.71 177.67 L69.71 176.94 L69.71 176.21 L69.72 175.47 L69.72 174.74 L69.72 174.01 L69.73 173.27 L69.73 172.54 L69.73 171.80 L69.74 171.07 L69.74 170.34 L69.74 169.60 L69.74 168.87 L69.75 168.14 L69.75 167.40 L69.75 166.67 L69.75 165.93 L69.76 165.20 L69.76 164.47 L69.76 163.73 L69.76 163.00 L69.77 162.27 L69.77 161.53 L69.77 160.80 L69.77 160.06 L69.78 159.33 L69.78 158.60 L69.78 157.86 L69.78 157.13 L69.78 156.40 L69.79 155.66 L69.79 154.93 L69.79 154.19 L69.79 153.46 L69.79 152.73 L69.80 151.99 L69.80 151.26 L69.80 150.53 L69.80 149.79 L69.80 149.79 L75.61 149.27 L81.41 148.74 L87.22 148.18 L93.03 147.60 L98.83 147.01 L104.64 146.40 L110.44 145.77 L116.25 145.12 L122.06 144.46 L127.86 143.78 L133.67 143.09 L139.48 142.38 L145.28 141.66 L151.09 140.92 L156.89 140.17 L162.70 139.40 L168.51 138.63 L174.31 137.84 L180.12 137.04 L185.93 136.22 L191.73 135.40 L197.54 134.56 L203.35 133.72 L209.15 132.86 L214.96 132.00 L220.76 131.12 L226.57 130.24 L232.38 129.35 L238.18 128.45 L243.99 127.54 L249.80 126.63 L255.60 125.71 L261.41 124.79 L267.22 123.86 L273.02 122.92 L278.83 121.98 L284.63 121.04 L290.44 120.09 L296.25 119.14 L302.05 118.18 L307.86 117.23 L313.67 116.27 L319.47 115.31 L325.28 114.35 L331.08 113.38 L336.89 112.42 L342.70 111.46 L348.50 110.50 L354.31 109.53 L360.12 108.57 L365.92 107.62 L371.73 106.66 L377.54 105.71 L383.34 104.76 L389.15 103.81 L394.95 102.87 L400.76 101.93 L406.57 101.00 L412.37 100.07 L418.18 99.15 L423.99 98.23 L429.79 97.33 L435.60 96.42 L441.41 95.53 L447.21 94.64 L453.02 93.76 L458.82 92.89 L464.63 92.03 L470.44 91.18 L476.24 90.34 L482.05 89.51 L487.86 88.70 L493.66 87.89 L499.47 87.09 L505.27 86.31 L511.08 85.54 L516.89 84.78 L522.69 84.04 L528.50 83.31" stroke="#00ff00"/>
</g>
<g fill="none" stroke-width="2.5" stroke-linejoin="round" stroke-dasharray="5.1 5.58" stroke-linecap="square" clip-path="url(#c)">
<path d="M183.60 106.08 L191.52 105.07 L199.43 104.06 L207.35 103.05 L215.27 102.06 L223.19 101.07 L231.10 100.08 L239.02 99.11 L246.94 98.13 L254.86 97.17 L262.77 96.21 L270.69 95.26 L278.61 94.31 L286.52 93.37 L294.44 92.44 L302.36 91.51 L310.28 90.59 L318.19 89.67 L326.11 88.77 L334.03 87.86 L341.94 86.97 L349.86 86.08 L357.78 85.19 L365.70 84.32 L373.61 83.45 L381.53 82.58 L389.45 81.72 L397.37 80.87 L405.28 80.03 L413.20 79.19 L413.20 79.19 L413.60 78.93 L413.99 78.68 L414.39 78.42 L414.79 78.17 L415.19 77.93 L415.59 77.68 L415.99 77.43 L416.39 77.19 L416.79 76.95 L417.19 76.71 L417.60 76.47 L418.00 76.24 L418.41 76.00 L418.81 75.77 L419.22 75.54 L419.63 75.31 L420.03 75.08 L420.44 74.86 L420.85 74.64 L421.26 74.41 L421.67 74.19 L422.08 73.97 L422.49 73.76 L422.91 73.54 L423.32 73.33 L423.73 73.12 L424.15 72.91 L424.56 72.70 L424.98 72.49 L425.40 72.28 L425.81 72.08 L426.23 71.88 L426.65 71.68 L427.07 71.48 L427.49 71.28 L427.91 71.08 L428.33 70.89 L428.75 70.69 L429.17 70.50 L429.60 70.31 L430.02 70.12 L430.44 69.93 L430.87 69.75 L431.29 69.56 L431.72 69.38 L432.15 69.20 L432.57 69.02 L433.00 68.84 L433.43 68.66 L433.86 68.49 L434.29 68.31 L434.72 68.14 L435.15 67.97 L435.58 67.79 L436.01 67.63 L436.44 67.46 L436.87 67.29 L437.30 67.12 L437.74 66.96 L438.17 66.80 L438.61 66.64 L439.04 66.47 L439.48 66.32 L439.91 66.16 L440.35 66.00 L440.79 65.85 L441.22 65.69 L441.66 65.54 L442.10 65.39 L442.54 65.23 L442.98 65.08 L443.42 64.94 L443.86 64.79 L444.30 64.64 L444.74 64.50 L445.18 64.35 L445.62 64.21 L446.06 64.07 L446.51 63.93 L446.95 63.79 L447.39 63.65 L447.84 63.51 L448.28 63.37 L448.73 63.24 L449.17 63.10 L449.62 62.97 L450.06 62.84 L450.51 62.71 L450.95 62.58 L451.40 62.45 L451.85 62.32 L452.30 62.19 L452.74 62.06 L453.19 61.94 L453.64 61.81 L454.09 61.69 L454.54 61.56 L454.99 61.44 L455.44 61.32 L455.89 61.20 L456.34 61.08 L456.79 60.96 L457.24 60.84 L457.70 60.73 L458.15 60.61 L458.60 60.49 L459.05 60.38 L459.51 60.26 L459.96 60.15 L460.41 60.04 L460.87 59.93 L461.32 59.81 L461.77 59.70 L462.23 59.59 L462.68 59.49 L463.14 59.38 L463.59 59.27 L464.05 59.16 L464.51 59.06 L464.96 58.95 L465.42 58.84 L465.87 58.74 L466.33 58.64 L466.79 58.53 L467.24 58.43 L467.70 58.33 L468.16 58.23 L468.62 58.13 L469.08 58.03 L469.53 57.93 L469.99 57.83 L470.45 57.73 L470.91 57.63 L471.37 57.53 L471.83 57.43 L472.29 57.34 L472.74 57.24 L473.20 57.15 L473.66 57.05 L474.12 56.96 L474.58 56.86 L475.04 56.77 L475.50 56.67 L475.96 56.58 L476.42 56.49 L476.88 56.39 L477.34 56.30 L477.81 56.21 L478.27 56.12 L478.73 56.03 L479.19 55.94 L479.65 55.85 L480.11 55.76 L480.57 55.67 L481.03 55.58 L481.49 55.49 L481.95 55.40 L482.42 55.31 L482.88 55.22 L483.34 55.13 L483.80 55.04 L484.26 54.96 L484.72 54.87 L485.19 54.78 L485.65 54.69 L486.11 54.61 L486.57 54.52 L487.03 54.43 L487.49 54.35 L487.96 54.26 L488.42 54.17 L488.88 54.09 L489.34 54.00 L489.80 53.91 L490.26 53.83 L490.73 53.74 L491.19 53.66 L491.65 53.57 L492.11 53.48 L492.57 53.40 L493.03 53.31 L493.50 53.23 L493.96 53.14 L494.42 53.05 L494.88 52.97 L495.34 52.88 L495.80 52.80 L496.26 52.71 L496.72 52.62 L497.18 52.54 L497.65 52.45 L498.11 52.37 L498.57 52.28 L499.03 52.19 L499.49 52.11 L499.95 52.02 L500.41 51.93 L500.87 51.84 L501.33 51.76 L501.79 51.67 L502.25 51.58 L502.71 51.49 L503.16 51.41 L503.62 51.32 L504.08 51.23 L504.54 51.14 L505.00 51.05 L505.46 50.96 L505.92 50.87 L506.38 50.78 L506.83 50.69 L507.29 50.60 L507.75 50.51 L508.21 50.42 L508.66 50.33 L509.12 50.23 L509.58 50.14 L510.03 50.05 L510.49 49.96 L510.94 49.86 L511.40 49.77 L511.86 49.67 L512.31 49.58 L512.77 49.48 L513.22 49.39 L513.68 49.29 L514.13 49.20 L514.58 49.10 L515.04 49.00 L515.49 48.90 L515.94 48.81 L516.40 48.71 L516.85 48.61 L517.30 48.51 L517.75 48.41 L518.21 48.30 L518.66 48.20 L519.11 48.10 L519.56 48.00 L520.01 47.89 L520.46 47.79 L520.91 47.69 L521.36 47.58 L521.81 47.47 L522.26 47.37 L522.70 47.26 L523.15 47.15 L523.60 47.04 L524.05 46.93 L524.49 46.82 L524.94 46.71 L525.39 46.60 L525.83 46.49 L526.28 46.38 L526.72 46.26 L527.17 46.15 L527.61 46.03 L528.06 45.92 L528.50 45.80" stroke="#000000" stroke-dashoffset="0.00"/>
<path d="M182.20 107.19 L189.36 106.26 L196.52 105.34 L203.68 104.43 L210.83 103.51 L217.99 102.61 L225.15 101.71 L232.31 100.81 L239.47 99.92 L246.63 99.03 L253.79 98.15 L260.94 97.28 L268.10 96.41 L275.26 95.54 L282.42 94.68 L289.58 93.83 L296.74 92.98 L303.90 92.13 L311.06 91.29 L318.21 90.46 L325.37 89.63 L332.53 88.80 L339.69 87.99 L346.85 87.17 L354.01 86.36 L361.17 85.56 L368.32 84.76 L375.48 83.97 L382.64 83.18 L389.80 82.40 L389.80 82.40 L390.27 82.06 L390.74 81.73 L391.21 81.40 L391.68 81.08 L392.15 80.75 L392.62 80.43 L393.09 80.12 L393.57 79.80 L394.04 79.49 L394.52 79.17 L395.00 78.86 L395.47 78.56 L395.95 78.25 L396.43 77.95 L396.91 77.65 L397.40 77.35 L397.88 77.06 L398.36 76.76 L398.85 76.47 L399.33 76.19 L399.82 75.90 L400.31 75.61 L400.79 75.33 L401.28 75.05 L401.77 74.78 L402.26 74.50 L402.76 74.23 L403.25 73.95 L403.74 73.69 L404.24 73.42 L404.73 73.15 L405.23 72.89 L405.72 72.63 L406.22 72.37 L406.72 72.11 L407.22 71.86 L407.72 71.61 L408.22 71.36 L408.72 71.11 L409.22 70.86 L409.73 70.62 L410.23 70.37 L410.74 70.13 L411.24 69.89 L411.75 69.66 L412.26 69.42 L412.76 69.19 L413.27 68.96 L413.78 68.73 L414.29 68.50 L414.80 68.28 L415.31 68.05 L415.83 67.83 L416.34 67.61 L416.85 67.39 L417.37 67.17 L417.88 66.96 L418.40 66.75 L418.91 66.53 L419.43 66.33 L419.95 66.12 L420.47 65.91 L420.99 65.71 L421.51 65.50 L422.03 65.30 L422.55 65.10 L423.07 64.91 L423.59 64.71 L424.11 64.51 L424.64 64.32 L425.16 64.13 L425.69 63.94 L426.21 63.75 L426.74 63.57 L427.26 63.38 L427.79 63.20 L428.32 63.01 L428.85 62.83 L429.38 62.65 L429.91 62.48 L430.44 62.30 L430.97 62.13 L431.50 61.95 L432.03 61.78 L432.56 61.61 L433.10 61.44 L433.63 61.27 L434.16 61.11 L434.70 60.94 L435.23 60.78 L435.77 60.62 L436.30 60.46 L436.84 60.30 L437.38 60.14 L437.91 59.98 L438.45 59.83 L438.99 59.67 L439.53 59.52 L440.07 59.37 L440.61 59.22 L441.15 59.07 L441.69 58.92 L442.23 58.77 L442.77 58.63 L443.31 58.48 L443.86 58.34 L444.40 58.20 L444.94 58.06 L445.49 57.92 L446.03 57.78 L446.57 57.64 L447.12 57.51 L447.66 57.37 L448.21 57.24 L448.76 57.10 L449.30 56.97 L449.85 56.84 L450.40 56.71 L450.94 56.58 L451.49 56.45 L452.04 56.32 L452.59 56.20 L453.14 56.07 L453.69 55.95 L454.24 55.82 L454.79 55.70 L455.34 55.58 L455.89 55.46 L456.44 55.34 L456.99 55.22 L457.54 55.10 L458.09 54.98 L458.64 54.87 L459.19 54.75 L459.75 54.64 L460.30 54.52 L460.85 54.41 L461.40 54.30 L461.96 54.19 L462.51 54.07 L463.07 53.96 L463.62 53.85 L464.17 53.75 L464.73 53.64 L465.28 53.53 L465.84 53.42 L466.39 53.32 L466.95 53.21 L467.50 53.11 L468.06 53.00 L468.62 52.90 L469.17 52.80 L469.73 52.69 L470.28 52.59 L470.84 52.49 L471.40 52.39 L471.95 52.29 L472.51 52.19 L473.07 52.09 L473.63 51.99 L474.18 51.89 L474.74 51.79 L475.30 51.70 L475.86 51.60 L476.41 51.50 L476.97 51.41 L477.53 51.31 L478.09 51.22 L478.65 51.12 L479.20 51.03 L479.76 50.93 L480.32 50.84 L480.88 50.75 L481.44 50.65 L482.00 50.56 L482.55 50.47 L483.11 50.37 L483.67 50.28 L484.23 50.19 L484.79 50.10 L485.35 50.01 L485.91 49.92 L486.46 49.83 L487.02 49.74 L487.58 49.65 L488.14 49.56 L488.70 49.47 L489.26 49.38 L489.82 49.29 L490.37 49.20 L490.93 49.11 L491.49 49.02 L492.05 48.93 L492.61 48.84 L493.17 48.75 L493.72 48.66 L494.28 48.57 L494.84 48.48 L495.40 48.39 L495.96 48.30 L496.51 48.21 L497.07 48.12 L497.63 48.04 L498.19 47.95 L498.74 47.86 L499.30 47.77 L499.86 47.68 L500.41 47.59 L500.97 47.50 L501.53 47.41 L502.08 47.32 L502.64 47.23 L503.20 47.14 L503.75 47.05 L504.31 46.96 L504.86 46.87 L505.42 46.78 L505.97 46.68 L506.53 46.59 L507.08 46.50 L507.64 46.41 L508.19 46.32 L508.75 46.22 L509.30 46.13 L509.85 46.04 L510.41 45.95 L510.96 45.85 L511.51 45.76 L512.07 45.66 L512.62 45.57 L513.17 45.47 L513.72 45.38 L514.27 45.28 L514.82 45.18 L515.38 45.09 L515.93 44.99 L516.48 44.89 L517.03 44.79 L517.58 44.70 L518.13 44.60 L518.68 44.50 L519.22 44.40 L519.77 44.30 L520.32 44.19 L520.87 44.09 L521.42 43.99 L521.96 43.89 L522.51 43.78 L523.06 43.68 L523.60 43.57 L524.15 43.47 L524.69 43.36 L525.24 43.26 L525.78 43.15 L526.33 43.04 L526.87 42.93 L527.41 42.82 L527.96 42.71 L528.50 42.60" stroke="#ff0000" stroke-dashoffset="0.00"/>
<path d="M177.30 110.02 L182.94 109.25 L188.59 108.48 L194.23 107.71 L199.88 106.95 L205.52 106.20 L211.17 105.44 L216.81 104.69 L222.46 103.95 L228.10 103.21 L233.75 102.47 L239.39 101.74 L245.04 101.01 L250.68 100.28 L256.33 99.56 L261.97 98.85 L267.62 98.13 L273.26 97.42 L278.91 96.72 L284.55 96.02 L290.20 95.32 L295.84 94.63 L301.49 93.94 L307.13 93.25 L312.78 92.57 L318.42 91.89 L324.07 91.22 L329.71 90.55 L335.36 89.88 L341.00 89.22 L341.00 89.22 L341.62 88.79 L342.24 88.36 L342.86 87.94 L343.48 87.51 L344.11 87.09 L344.73 86.67 L345.36 86.24 L345.98 85.82 L346.61 85.40 L347.24 84.98 L347.87 84.57 L348.50 84.15 L349.13 83.73 L349.76 83.32 L350.40 82.91 L351.03 82.50 L351.67 82.09 L352.31 81.68 L352.95 81.28 L353.59 80.87 L354.23 80.47 L354.88 80.07 L355.52 79.67 L356.17 79.28 L356.82 78.88 L357.47 78.49 L358.12 78.10 L358.77 77.71 L359.42 77.33 L360.08 76.95 L360.74 76.57 L361.39 76.19 L362.05 75.81 L362.72 75.44 L363.38 75.07 L364.04 74.70 L364.71 74.34 L365.38 73.97 L366.05 73.61 L366.72 73.26 L367.40 72.90 L368.07 72.55 L368.75 72.20 L369.43 71.86 L370.11 71.52 L370.79 71.17 L371.47 70.84 L372.15 70.50 L372.84 70.17 L373.52 69.84 L374.21 69.51 L374.90 69.19 L375.59 68.87 L376.28 68.55 L376.98 68.23 L377.67 67.92 L378.37 67.61 L379.06 67.30 L379.76 66.99 L380.46 66.69 L381.16 66.39 L381.86 66.09 L382.56 65.79 L383.27 65.50 L383.97 65.21 L384.67 64.92 L385.38 64.64 L386.09 64.35 L386.79 64.07 L387.50 63.79 L388.21 63.52 L388.92 63.25 L389.63 62.98 L390.34 62.71 L391.05 62.44 L391.76 62.18 L392.48 61.92 L393.19 61.66 L393.91 61.40 L394.62 61.15 L395.34 60.90 L396.05 60.65 L396.77 60.40 L397.49 60.16 L398.21 59.91 L398.93 59.67 L399.65 59.43 L400.37 59.20 L401.09 58.97 L401.81 58.73 L402.54 58.50 L403.26 58.28 L403.98 58.05 L404.71 57.83 L405.43 57.61 L406.16 57.39 L406.89 57.17 L407.61 56.96 L408.34 56.75 L409.07 56.54 L409.80 56.33 L410.53 56.12 L411.26 55.92 L411.99 55.71 L412.72 55.51 L413.45 55.32 L414.19 55.12 L414.92 54.92 L415.65 54.73 L416.39 54.54 L417.12 54.35 L417.86 54.16 L418.59 53.98 L419.33 53.80 L420.07 53.61 L420.80 53.43 L421.54 53.26 L422.28 53.08 L423.02 52.90 L423.76 52.73 L424.50 52.56 L425.24 52.39 L425.98 52.22 L426.72 52.06 L427.46 51.89 L428.21 51.73 L428.95 51.57 L429.69 51.41 L430.43 51.25 L431.18 51.09 L431.92 50.94 L432.67 50.78 L433.41 50.63 L434.16 50.48 L434.90 50.33 L435.65 50.18 L436.40 50.04 L437.14 49.89 L437.89 49.75 L438.64 49.61 L439.39 49.47 L440.14 49.33 L440.88 49.19 L441.63 49.05 L442.38 48.92 L443.13 48.78 L443.88 48.65 L444.63 48.52 L445.38 48.39 L446.14 48.26 L446.89 48.13 L447.64 48.01 L448.39 47.88 L449.14 47.76 L449.89 47.64 L450.65 47.52 L451.40 47.39 L452.15 47.28 L452.91 47.16 L453.66 47.04 L454.42 46.92 L455.17 46.81 L455.92 46.70 L456.68 46.58 L457.43 46.47 L458.19 46.36 L458.94 46.25 L459.70 46.14 L460.46 46.03 L461.21 45.93 L461.97 45.82 L462.72 45.72 L463.48 45.61 L464.24 45.51 L464.99 45.41 L465.75 45.30 L466.51 45.20 L467.26 45.10 L468.02 45.00 L468.78 44.91 L469.54 44.81 L470.29 44.71 L471.05 44.62 L471.81 44.52 L472.57 44.43 L473.33 44.33 L474.08 44.24 L474.84 44.15 L475.60 44.05 L476.36 43.96 L477.12 43.87 L477.88 43.78 L478.63 43.69 L479.39 43.60 L480.15 43.52 L480.91 43.43 L481.67 43.34 L482.43 43.25 L483.19 43.17 L483.94 43.08 L484.70 43.00 L485.46 42.91 L486.22 42.83 L486.98 42.74 L487.74 42.66 L488.50 42.58 L489.25 42.49 L490.01 42.41 L490.77 42.33 L491.53 42.25 L492.29 42.16 L493.05 42.08 L493.80 42.00 L494.56 41.92 L495.32 41.84 L496.08 41.76 L496.84 41.68 L497.59 41.60 L498.35 41.52 L499.11 41.44 L499.87 41.36 L500.62 41.28 L501.38 41.20 L502.14 41.12 L502.90 41.04 L503.65 40.97 L504.41 40.89 L505.16 40.81 L505.92 40.73 L506.68 40.65 L507.43 40.57 L508.19 40.49 L508.94 40.41 L509.70 40.33 L510.45 40.26 L511.21 40.18 L511.96 40.10 L512.72 40.02 L513.47 39.94 L514.23 39.86 L514.98 39.78 L515.73 39.70 L516.49 39.62 L517.24 39.54 L517.99 39.46 L518.75 39.38 L519.50 39.30 L520.25 39.22 L521.00 39.13 L521.75 39.05 L522.50 38.97 L523.25 38.89 L524.00 38.81 L524.75 38.72 L525.50 38.64 L526.25 38.55 L527.00 38.47 L527.75 38.39 L528.50 38.30" stroke="#0000ff" stroke-dashoffset="0.00"/>
<path d="M166.60 113.60 L170.79 113.02 L174.97 112.45 L179.16 111.88 L183.34 111.31 L187.53 110.74 L191.72 110.17 L195.90 109.61 L200.09 109.05 L204.28 108.49 L208.46 107.93 L212.65 107.37 L216.83 106.82 L221.02 106.27 L225.21 105.71 L229.39 105.17 L233.58 104.62 L237.77 104.07 L241.95 103.53 L246.14 102.99 L250.32 102.45 L254.51 101.91 L258.70 101.38 L262.88 100.85 L267.07 100.31 L271.26 99.78 L275.44 99.26 L279.63 98.73 L283.81 98.21 L288.00 97.69 L288.00 97.69 L288.74 97.01 L289.48 96.34 L290.22 95.67 L290.97 95.01 L291.72 94.36 L292.48 93.71 L293.23 93.07 L293.99 92.43 L294.76 91.80 L295.52 91.17 L296.29 90.55 L297.06 89.94 L297.84 89.33 L298.62 88.73 L299.40 88.13 L300.18 87.53 L300.97 86.94 L301.76 86.36 L302.55 85.78 L303.35 85.21 L304.14 84.65 L304.94 84.08 L305.75 83.53 L306.55 82.98 L307.36 82.43 L308.17 81.89 L308.99 81.35 L309.80 80.82 L310.62 80.29 L311.44 79.77 L312.27 79.25 L313.09 78.74 L313.92 78.24 L314.75 77.73 L315.59 77.24 L316.42 76.74 L317.26 76.26 L318.10 75.77 L318.95 75.29 L319.79 74.82 L320.64 74.35 L321.49 73.89 L322.35 73.43 L323.20 72.97 L324.06 72.52 L324.92 72.07 L325.78 71.63 L326.64 71.19 L327.51 70.76 L328.38 70.33 L329.25 69.91 L330.12 69.49 L330.99 69.07 L331.87 68.66 L332.75 68.25 L333.63 67.85 L334.51 67.45 L335.40 67.05 L336.28 66.66 L337.17 66.27 L338.06 65.89 L338.95 65.51 L339.85 65.14 L340.74 64.77 L341.64 64.40 L342.54 64.03 L343.44 63.67 L344.34 63.32 L345.24 62.97 L346.15 62.62 L347.06 62.27 L347.97 61.93 L348.88 61.60 L349.79 61.26 L350.70 60.93 L351.62 60.61 L352.54 60.28 L353.45 59.96 L354.37 59.65 L355.30 59.34 L356.22 59.03 L357.14 58.72 L358.07 58.42 L359.00 58.12 L359.92 57.82 L360.85 57.53 L361.78 57.24 L362.72 56.96 L363.65 56.67 L364.59 56.39 L365.52 56.12 L366.46 55.85 L367.40 55.58 L368.34 55.31 L369.28 55.04 L370.22 54.78 L371.16 54.52 L372.11 54.27 L373.05 54.02 L374.00 53.77 L374.94 53.52 L375.89 53.28 L376.84 53.04 L377.79 52.80 L378.74 52.56 L379.69 52.33 L380.64 52.10 L381.60 51.87 L382.55 51.65 L383.51 51.42 L384.46 51.20 L385.42 50.99 L386.38 50.77 L387.33 50.56 L388.29 50.35 L389.25 50.14 L390.21 49.94 L391.17 49.73 L392.13 49.53 L393.10 49.33 L394.06 49.14 L395.02 48.94 L395.98 48.75 L396.95 48.56 L397.91 48.38 L398.88 48.19 L399.85 48.01 L400.81 47.83 L401.78 47.65 L402.75 47.47 L403.72 47.30 L404.68 47.13 L405.65 46.96 L406.62 46.79 L407.59 46.62 L408.56 46.46 L409.54 46.30 L410.51 46.14 L411.48 45.98 L412.45 45.82 L413.43 45.67 L414.40 45.51 L415.37 45.36 L416.35 45.21 L417.32 45.07 L418.30 44.92 L419.27 44.78 L420.25 44.63 L421.23 44.49 L422.20 44.35 L423.18 44.22 L424.16 44.08 L425.13 43.95 L426.11 43.82 L427.09 43.68 L428.07 43.56 L429.05 43.43 L430.03 43.30 L431.01 43.18 L431.98 43.05 L432.96 42.93 L433.94 42.81 L434.92 42.69 L435.91 42.57 L436.89 42.46 L437.87 42.34 L438.85 42.23 L439.83 42.12 L440.81 42.00 L441.79 41.89 L442.77 41.79 L443.75 41.68 L444.74 41.57 L445.72 41.47 L446.70 41.36 L447.68 41.26 L448.66 41.16 L449.65 41.06 L450.63 40.96 L451.61 40.86 L452.59 40.76 L453.58 40.66 L454.56 40.57 L455.54 40.47 L456.52 40.38 L457.51 40.28 L458.49 40.19 L459.47 40.10 L460.45 40.01 L461.43 39.92 L462.42 39.83 L463.40 39.74 L464.38 39.65 L465.36 39.57 L466.34 39.48 L467.33 39.39 L468.31 39.31 L469.29 39.22 L470.27 39.14 L471.25 39.06 L472.23 38.98 L473.21 38.89 L474.19 38.81 L475.17 38.73 L476.15 38.65 L477.13 38.57 L478.11 38.49 L479.09 38.41 L480.07 38.33 L481.05 38.25 L482.03 38.18 L483.01 38.10 L483.99 38.02 L484.96 37.94 L485.94 37.87 L486.92 37.79 L487.90 37.71 L488.87 37.64 L489.85 37.56 L490.82 37.48 L491.80 37.41 L492.78 37.33 L493.75 37.26 L494.72 37.18 L495.70 37.10 L496.67 37.03 L497.64 36.95 L498.62 36.88 L499.59 36.80 L500.56 36.73 L501.53 36.65 L502.50 36.57 L503.47 36.50 L504.44 36.42 L505.41 36.34 L506.38 36.27 L507.35 36.19 L508.32 36.11 L509.29 36.04 L510.25 35.96 L511.22 35.88 L512.18 35.80 L513.15 35.72 L514.11 35.64 L515.08 35.57 L516.04 35.49 L517.00 35.41 L517.96 35.32 L518.93 35.24 L519.89 35.16 L520.85 35.08 L521.81 35.00 L522.76 34.91 L523.72 34.83 L524.68 34.74 L525.64 34.66 L526.59 34.57 L527.55 34.49 L528.50 34.40" stroke="#800080" stroke-dashoffset="0.00"/>
<path d="M149.70 120.04 L152.41 119.62 L155.13 119.20 L157.84 118.78 L160.56 118.37 L163.27 117.95 L165.98 117.54 L168.70 117.12 L171.41 116.71 L174.12 116.30 L176.84 115.89 L179.55 115.48 L182.27 115.08 L184.98 114.67 L187.69 114.27 L190.41 113.86 L193.12 113.46 L195.83 113.06 L198.55 112.66 L201.26 112.26 L203.98 111.87 L206.69 111.47 L209.40 111.08 L212.12 110.68 L214.83 110.29 L217.54 109.90 L220.26 109.51 L222.97 109.12 L225.69 108.74 L228.40 108.35 L228.40 108.35 L229.03 107.26 L229.68 106.17 L230.34 105.10 L231.01 104.05 L231.70 103.00 L232.41 101.97 L233.12 100.95 L233.85 99.94 L234.60 98.94 L235.36 97.96 L236.13 96.98 L236.91 96.02 L237.71 95.07 L238.52 94.14 L239.34 93.21 L240.17 92.30 L241.01 91.39 L241.87 90.50 L242.74 89.63 L243.61 88.76 L244.50 87.90 L245.40 87.06 L246.31 86.23 L247.23 85.40 L248.16 84.59 L249.10 83.80 L250.04 83.01 L251.00 82.23 L251.96 81.47 L252.94 80.71 L253.92 79.97 L254.91 79.24 L255.91 78.51 L256.91 77.80 L257.93 77.10 L258.95 76.42 L259.97 75.74 L261.01 75.07 L262.05 74.41 L263.10 73.77 L264.15 73.13 L265.21 72.51 L266.27 71.89 L267.34 71.29 L268.41 70.70 L269.49 70.11 L270.58 69.54 L271.67 68.98 L272.76 68.42 L273.86 67.88 L274.96 67.34 L276.07 66.82 L277.19 66.30 L278.30 65.80 L279.42 65.30 L280.55 64.81 L281.68 64.33 L282.81 63.85 L283.95 63.39 L285.09 62.93 L286.24 62.48 L287.39 62.04 L288.54 61.61 L289.69 61.19 L290.85 60.77 L292.02 60.36 L293.18 59.96 L294.35 59.56 L295.52 59.17 L296.70 58.79 L297.87 58.41 L299.05 58.04 L300.24 57.68 L301.42 57.32 L302.61 56.97 L303.80 56.62 L304.99 56.28 L306.19 55.95 L307.38 55.62 L308.58 55.30 L309.78 54.98 L310.98 54.67 L312.19 54.36 L313.39 54.06 L314.60 53.76 L315.81 53.46 L317.02 53.17 L318.23 52.88 L319.44 52.60 L320.65 52.32 L321.87 52.05 L323.08 51.78 L324.30 51.51 L325.51 51.25 L326.73 50.98 L327.95 50.73 L329.17 50.47 L330.39 50.22 L331.60 49.97 L332.82 49.72 L334.04 49.47 L335.26 49.23 L336.48 48.99 L337.70 48.75 L338.92 48.52 L340.14 48.29 L341.36 48.06 L342.58 47.83 L343.80 47.60 L345.02 47.38 L346.24 47.16 L347.46 46.94 L348.68 46.72 L349.90 46.51 L351.13 46.29 L352.35 46.09 L353.57 45.88 L354.79 45.67 L356.01 45.47 L357.24 45.27 L358.46 45.07 L359.68 44.87 L360.91 44.68 L362.13 44.49 L363.35 44.30 L364.58 44.11 L365.80 43.92 L367.02 43.74 L368.25 43.56 L369.47 43.38 L370.70 43.20 L371.92 43.02 L373.14 42.85 L374.37 42.68 L375.59 42.51 L376.82 42.34 L378.05 42.17 L379.27 42.01 L380.50 41.84 L381.72 41.68 L382.95 41.52 L384.17 41.37 L385.40 41.21 L386.63 41.06 L387.85 40.91 L389.08 40.76 L390.31 40.61 L391.54 40.46 L392.76 40.32 L393.99 40.17 L395.22 40.03 L396.45 39.89 L397.67 39.75 L398.90 39.62 L400.13 39.48 L401.36 39.35 L402.59 39.22 L403.82 39.09 L405.04 38.96 L406.27 38.83 L407.50 38.71 L408.73 38.58 L409.96 38.46 L411.19 38.34 L412.42 38.22 L413.65 38.10 L414.88 37.98 L416.11 37.87 L417.34 37.75 L418.57 37.64 L419.80 37.53 L421.03 37.42 L422.26 37.31 L423.49 37.20 L424.72 37.09 L425.96 36.99 L427.19 36.89 L428.42 36.78 L429.65 36.68 L430.88 36.58 L432.11 36.48 L433.34 36.38 L434.58 36.29 L435.81 36.19 L437.04 36.10 L438.27 36.00 L439.51 35.91 L440.74 35.82 L441.97 35.73 L443.20 35.64 L444.44 35.55 L445.67 35.46 L446.90 35.38 L448.14 35.29 L449.37 35.21 L450.60 35.12 L451.84 35.04 L453.07 34.96 L454.31 34.88 L455.54 34.80 L456.77 34.72 L458.01 34.64 L459.24 34.56 L460.48 34.49 L461.71 34.41 L462.95 34.34 L464.18 34.26 L465.41 34.19 L466.65 34.11 L467.88 34.04 L469.12 33.97 L470.35 33.90 L471.59 33.83 L472.83 33.76 L474.06 33.69 L475.30 33.62 L476.53 33.55 L477.77 33.49 L479.00 33.42 L480.24 33.35 L481.48 33.29 L482.71 33.22 L483.95 33.16 L485.18 33.09 L486.42 33.03 L487.66 32.97 L488.89 32.90 L490.13 32.84 L491.37 32.78 L492.60 32.72 L493.84 32.65 L495.08 32.59 L496.31 32.53 L497.55 32.47 L498.79 32.41 L500.03 32.35 L501.26 32.29 L502.50 32.23 L503.74 32.17 L504.98 32.11 L506.21 32.05 L507.45 31.99 L508.69 31.93 L509.93 31.88 L511.16 31.82 L512.40 31.76 L513.64 31.70 L514.88 31.64 L516.12 31.58 L517.35 31.53 L518.59 31.47 L519.83 31.41 L521.07 31.35 L522.31 31.29 L523.55 31.23 L524.78 31.18 L526.02 31.12 L527.26 31.06 L528.50 31.00" stroke="#ff8000" stroke-dashoffset="0.00"/>
<path d="M116.90 130.26 L118.10 130.07 L119.30 129.89 L120.51 129.70 L121.71 129.52 L122.91 129.34 L124.11 129.16 L125.31 128.97 L126.51 128.79 L127.72 128.61 L128.92 128.43 L130.12 128.24 L131.32 128.06 L132.52 127.88 L133.72 127.70 L134.93 127.52 L136.13 127.34 L137.33 127.15 L138.53 126.97 L139.73 126.79 L140.93 126.61 L142.14 126.43 L143.34 126.25 L144.54 126.07 L145.74 125.89 L146.94 125.71 L148.14 125.53 L149.35 125.35 L150.55 125.17 L151.75 124.99 L151.75 124.99 L152.07 123.38 L152.43 121.79 L152.81 120.20 L153.23 118.63 L153.69 117.07 L154.17 115.53 L154.68 113.99 L155.23 112.48 L155.80 110.97 L156.40 109.48 L157.04 108.01 L157.70 106.55 L158.39 105.11 L159.10 103.68 L159.85 102.27 L160.62 100.88 L161.41 99.50 L162.24 98.14 L163.09 96.80 L163.96 95.47 L164.86 94.16 L165.78 92.87 L166.72 91.60 L167.69 90.35 L168.68 89.12 L169.69 87.91 L170.73 86.72 L171.78 85.54 L172.86 84.39 L173.95 83.26 L175.07 82.15 L176.20 81.06 L177.36 80.00 L178.53 78.95 L179.72 77.93 L180.93 76.93 L182.16 75.95 L183.40 75.00 L184.66 74.07 L185.93 73.16 L187.22 72.28 L188.52 71.42 L189.84 70.58 L191.17 69.77 L192.52 68.97 L193.88 68.20 L195.25 67.45 L196.64 66.72 L198.03 66.00 L199.44 65.31 L200.86 64.64 L202.29 63.98 L203.73 63.34 L205.18 62.72 L206.64 62.11 L208.11 61.53 L209.59 60.95 L211.08 60.40 L212.57 59.85 L214.07 59.32 L215.58 58.81 L217.10 58.31 L218.62 57.82 L220.15 57.35 L221.68 56.88 L223.22 56.43 L224.76 55.99 L226.31 55.56 L227.86 55.14 L229.42 54.73 L230.98 54.33 L232.54 53.93 L234.10 53.55 L235.66 53.17 L237.23 52.80 L238.80 52.44 L240.37 52.08 L241.93 51.73 L243.50 51.39 L245.07 51.05 L246.64 50.71 L248.21 50.39 L249.78 50.06 L251.35 49.74 L252.92 49.43 L254.49 49.12 L256.06 48.82 L257.63 48.53 L259.20 48.23 L260.77 47.95 L262.34 47.66 L263.91 47.38 L265.48 47.11 L267.05 46.84 L268.62 46.58 L270.19 46.32 L271.76 46.06 L273.33 45.81 L274.90 45.56 L276.48 45.32 L278.05 45.08 L279.62 44.85 L281.19 44.62 L282.77 44.39 L284.34 44.17 L285.91 43.95 L287.49 43.73 L289.06 43.52 L290.63 43.31 L292.21 43.10 L293.78 42.90 L295.35 42.70 L296.93 42.51 L298.50 42.31 L300.08 42.12 L301.65 41.94 L303.23 41.75 L304.80 41.57 L306.38 41.39 L307.96 41.21 L309.53 41.04 L311.11 40.87 L312.68 40.70 L314.26 40.54 L315.84 40.37 L317.41 40.21 L318.99 40.05 L320.57 39.89 L322.15 39.74 L323.73 39.58 L325.30 39.43 L326.88 39.28 L328.46 39.13 L330.04 38.98 L331.62 38.84 L333.20 38.69 L334.78 38.55 L336.36 38.41 L337.94 38.27 L339.52 38.13 L341.10 37.99 L342.68 37.86 L344.26 37.72 L345.84 37.59 L347.42 37.45 L349.01 37.32 L350.59 37.18 L352.17 37.05 L353.75 36.92 L355.34 36.79 L356.92 36.66 L358.50 36.53 L360.09 36.40 L361.67 36.27 L363.25 36.15 L364.84 36.02 L366.42 35.89 L368.01 35.77 L369.59 35.65 L371.18 35.52 L372.76 35.40 L374.35 35.28 L375.93 35.16 L377.52 35.04 L379.10 34.92 L380.69 34.80 L382.28 34.68 L383.86 34.56 L385.45 34.45 L387.04 34.33 L388.62 34.22 L390.21 34.11 L391.80 33.99 L393.38 33.88 L394.97 33.77 L396.56 33.66 L398.15 33.55 L399.74 33.44 L401.32 33.34 L402.91 33.23 L404.50 33.12 L406.09 33.02 L407.68 32.92 L409.27 32.81 L410.85 32.71 L412.44 32.61 L414.03 32.51 L415.62 32.41 L417.21 32.31 L418.80 32.22 L420.39 32.12 L421.98 32.03 L423.57 31.93 L425.16 31.84 L426.75 31.75 L428.34 31.66 L429.93 31.57 L431.52 31.48 L433.11 31.39 L434.70 31.30 L436.29 31.22 L437.88 31.13 L439.47 31.05 L441.06 30.96 L442.65 30.88 L444.24 30.80 L445.83 30.72 L447.42 30.64 L449.01 30.57 L450.60 30.49 L452.19 30.41 L453.78 30.34 L455.37 30.27 L456.96 30.20 L458.56 30.12 L460.15 30.05 L461.74 29.99 L463.33 29.92 L464.92 29.85 L466.51 29.79 L468.10 29.72 L469.69 29.66 L471.28 29.60 L472.87 29.54 L474.46 29.48 L476.05 29.42 L477.64 29.36 L479.23 29.31 L480.82 29.25 L482.41 29.20 L484.00 29.15 L485.59 29.10 L487.18 29.05 L488.77 29.00 L490.36 28.95 L491.95 28.90 L493.54 28.86 L495.13 28.82 L496.72 28.77 L498.31 28.73 L499.90 28.69 L501.49 28.65 L503.08 28.62 L504.67 28.58 L506.26 28.55 L507.85 28.51 L509.44 28.48 L511.03 28.45 L512.62 28.42 L514.21 28.39 L515.80 28.37 L517.38 28.34 L518.97 28.32 L520.56 28.29 L522.15 28.27 L523.74 28.25 L525.32 28.23 L526.91 28.22 L528.50 28.20" stroke="#996633" stroke-dashoffset="0.00"/>
<path d="M83.00 142.87 L83.29 142.84 L83.59 142.80 L83.88 142.77 L84.17 142.74 L84.47 142.70 L84.76 142.67 L85.05 142.64 L85.34 142.61 L85.64 142.57 L85.93 142.54 L86.22 142.51 L86.52 142.47 L86.81 142.44 L87.10 142.41 L87.40 142.37 L87.69 142.34 L87.98 142.31 L88.28 142.27 L88.57 142.24 L88.86 142.21 L89.16 142.17 L89.45 142.14 L89.74 142.10 L90.03 142.07 L90.33 142.04 L90.62 142.00 L90.91 141.97 L91.21 141.94 L91.50 141.90 L91.50 141.90 L91.68 140.16 L91.85 138.38 L92.01 136.57 L92.17 134.74 L92.32 132.88 L92.47 131.01 L92.62 129.11 L92.78 127.20 L92.94 125.27 L93.11 123.33 L93.30 121.38 L93.50 119.43 L93.72 117.47 L93.97 115.50 L94.23 113.54 L94.53 111.58 L94.85 109.62 L95.20 107.67 L95.59 105.73 L96.02 103.81 L96.49 101.89 L97.00 100.00 L97.56 98.12 L98.17 96.26 L98.83 94.43 L99.54 92.62 L100.31 90.84 L101.14 89.10 L102.02 87.39 L102.95 85.72 L103.94 84.09 L104.98 82.51 L106.08 80.98 L107.23 79.51 L108.43 78.10 L109.68 76.74 L110.98 75.45 L112.33 74.21 L113.72 73.03 L115.16 71.90 L116.64 70.83 L118.16 69.80 L119.72 68.82 L121.31 67.89 L122.94 67.00 L124.59 66.15 L126.28 65.34 L128.00 64.57 L129.73 63.83 L131.50 63.13 L133.28 62.45 L135.08 61.81 L136.90 61.19 L138.74 60.59 L140.59 60.02 L142.44 59.46 L144.31 58.93 L146.19 58.41 L148.07 57.90 L149.95 57.41 L151.83 56.93 L153.72 56.45 L155.60 55.99 L157.48 55.53 L159.37 55.08 L161.25 54.64 L163.14 54.21 L165.02 53.78 L166.90 53.37 L168.79 52.96 L170.67 52.56 L172.56 52.17 L174.44 51.78 L176.33 51.40 L178.22 51.03 L180.10 50.67 L181.99 50.31 L183.87 49.97 L185.76 49.62 L187.65 49.29 L189.53 48.96 L191.42 48.64 L193.31 48.32 L195.20 48.01 L197.08 47.71 L198.97 47.41 L200.86 47.12 L202.75 46.84 L204.64 46.56 L206.53 46.28 L208.42 46.01 L210.31 45.75 L212.20 45.49 L214.09 45.24 L215.98 44.99 L217.87 44.75 L219.76 44.51 L221.65 44.27 L223.54 44.04 L225.43 43.82 L227.32 43.60 L229.21 43.38 L231.11 43.17 L233.00 42.96 L234.89 42.75 L236.78 42.55 L238.68 42.35 L240.57 42.15 L242.46 41.96 L244.36 41.77 L246.25 41.59 L248.15 41.40 L250.04 41.22 L251.94 41.05 L253.83 40.87 L255.73 40.70 L257.62 40.53 L259.52 40.36 L261.42 40.19 L263.31 40.03 L265.21 39.86 L267.11 39.70 L269.01 39.54 L270.90 39.39 L272.80 39.23 L274.70 39.07 L276.60 38.92 L278.50 38.76 L280.40 38.61 L282.30 38.46 L284.20 38.31 L286.10 38.16 L288.00 38.01 L289.90 37.86 L291.80 37.71 L293.71 37.56 L295.61 37.41 L297.51 37.27 L299.41 37.12 L301.32 36.98 L303.22 36.83 L305.12 36.69 L307.03 36.55 L308.93 36.41 L310.83 36.26 L312.74 36.12 L314.64 35.99 L316.55 35.85 L318.45 35.71 L320.36 35.57 L322.26 35.44 L324.17 35.30 L326.07 35.17 L327.98 35.03 L329.89 34.90 L331.79 34.77 L333.70 34.64 L335.61 34.51 L337.51 34.38 L339.42 34.25 L341.33 34.12 L343.24 33.99 L345.15 33.87 L347.05 33.74 L348.96 33.62 L350.87 33.50 L352.78 33.37 L354.69 33.25 L356.60 33.13 L358.51 33.01 L360.41 32.89 L362.32 32.77 L364.23 32.66 L366.14 32.54 L368.05 32.43 L369.96 32.31 L371.87 32.20 L373.78 32.09 L375.69 31.97 L377.60 31.86 L379.51 31.75 L381.42 31.64 L383.33 31.54 L385.25 31.43 L387.16 31.32 L389.07 31.22 L390.98 31.12 L392.89 31.01 L394.80 30.91 L396.71 30.81 L398.62 30.71 L400.53 30.61 L402.45 30.51 L404.36 30.42 L406.27 30.32 L408.18 30.23 L410.09 30.13 L412.00 30.04 L413.91 29.95 L415.83 29.86 L417.74 29.77 L419.65 29.68 L421.56 29.59 L423.47 29.50 L425.38 29.42 L427.30 29.33 L429.21 29.25 L431.12 29.17 L433.03 29.09 L434.94 29.01 L436.85 28.93 L438.76 28.85 L440.68 28.77 L442.59 28.70 L444.50 28.62 L446.41 28.55 L448.32 28.48 L450.23 28.41 L452.14 28.34 L454.06 28.27 L455.97 28.20 L457.88 28.13 L459.79 28.07 L461.70 28.00 L463.61 27.94 L465.52 27.88 L467.43 27.82 L469.34 27.76 L471.25 27.70 L473.16 27.64 L475.07 27.58 L476.98 27.53 L478.89 27.47 L480.80 27.42 L482.71 27.37 L484.62 27.32 L486.53 27.27 L488.44 27.22 L490.35 27.17 L492.26 27.13 L494.17 27.08 L496.08 27.04 L497.99 27.00 L499.89 26.96 L501.80 26.92 L503.71 26.88 L505.62 26.84 L507.53 26.81 L509.43 26.77 L511.34 26.74 L513.25 26.71 L515.16 26.68 L517.06 26.65 L518.97 26.62 L520.88 26.59 L522.78 26.57 L524.69 26.54 L526.59 26.52 L528.50 26.50" stroke="#ff00ff" stroke-dashoffset="7.05"/>
<path d="M74.80 147.72 L75.00 145.78 L75.17 143.83 L75.30 141.86 L75.40 139.88 L75.48 137.89 L75.53 135.89 L75.57 133.88 L75.59 131.86 L75.60 129.84 L75.60 127.80 L75.59 125.77 L75.59 123.72 L75.59 121.68 L75.60 119.63 L75.61 117.58 L75.65 115.53 L75.69 113.48 L75.76 111.43 L75.86 109.38 L75.98 107.34 L76.14 105.30 L76.33 103.27 L76.56 101.24 L76.84 99.22 L77.16 97.21 L77.54 95.21 L77.96 93.21 L78.45 91.24 L79.01 89.29 L79.66 87.38 L80.41 85.53 L81.27 83.75 L82.25 82.05 L83.37 80.44 L84.62 78.93 L85.97 77.51 L87.42 76.17 L88.94 74.90 L90.52 73.69 L92.13 72.55 L93.78 71.46 L95.46 70.42 L97.17 69.44 L98.90 68.50 L100.67 67.61 L102.45 66.77 L104.27 65.96 L106.10 65.20 L107.96 64.48 L109.83 63.79 L111.73 63.13 L113.64 62.51 L115.56 61.91 L117.50 61.34 L119.45 60.80 L121.41 60.28 L123.38 59.77 L125.36 59.29 L127.34 58.82 L129.33 58.36 L131.32 57.92 L133.31 57.48 L135.30 57.06 L137.30 56.63 L139.29 56.22 L141.28 55.81 L143.27 55.40 L145.26 55.00 L147.25 54.61 L149.25 54.23 L151.24 53.84 L153.23 53.47 L155.22 53.10 L157.21 52.73 L159.20 52.38 L161.19 52.02 L163.19 51.67 L165.18 51.33 L167.17 50.99 L169.16 50.66 L171.15 50.33 L173.14 50.01 L175.13 49.69 L177.12 49.38 L179.11 49.07 L181.11 48.76 L183.10 48.46 L185.09 48.17 L187.08 47.88 L189.07 47.59 L191.06 47.31 L193.05 47.03 L195.05 46.75 L197.04 46.48 L199.03 46.22 L201.02 45.95 L203.01 45.70 L205.01 45.44 L207.00 45.19 L208.99 44.94 L210.98 44.70 L212.98 44.45 L214.97 44.22 L216.96 43.98 L218.96 43.75 L220.95 43.52 L222.95 43.29 L224.94 43.07 L226.94 42.85 L228.93 42.63 L230.93 42.42 L232.92 42.21 L234.92 42.00 L236.91 41.79 L238.91 41.59 L240.91 41.39 L242.90 41.19 L244.90 40.99 L246.90 40.79 L248.90 40.60 L250.90 40.41 L252.90 40.22 L254.90 40.03 L256.90 39.84 L258.90 39.66 L260.90 39.48 L262.90 39.30 L264.90 39.12 L266.90 38.94 L268.90 38.76 L270.91 38.59 L272.91 38.41 L274.91 38.24 L276.92 38.07 L278.92 37.90 L280.92 37.74 L282.93 37.57 L284.93 37.41 L286.94 37.24 L288.95 37.08 L290.95 36.92 L292.96 36.77 L294.96 36.61 L296.97 36.45 L298.98 36.30 L300.99 36.15 L302.99 36.00 L305.00 35.85 L307.01 35.70 L309.02 35.55 L311.03 35.41 L313.04 35.27 L315.05 35.12 L317.06 34.98 L319.07 34.84 L321.08 34.71 L323.09 34.57 L325.10 34.43 L327.11 34.30 L329.12 34.17 L331.14 34.04 L333.15 33.91 L335.16 33.78 L337.17 33.65 L339.18 33.52 L341.20 33.40 L343.21 33.28 L345.22 33.15 L347.24 33.03 L349.25 32.91 L351.26 32.79 L353.28 32.68 L355.29 32.56 L357.30 32.45 L359.32 32.33 L361.33 32.22 L363.35 32.11 L365.36 32.00 L367.38 31.89 L369.39 31.78 L371.41 31.68 L373.42 31.57 L375.44 31.47 L377.45 31.36 L379.47 31.26 L381.48 31.16 L383.50 31.06 L385.51 30.96 L387.53 30.87 L389.55 30.77 L391.56 30.68 L393.58 30.58 L395.59 30.49 L397.61 30.40 L399.63 30.31 L401.64 30.22 L403.66 30.13 L405.67 30.04 L407.69 29.95 L409.71 29.87 L411.72 29.78 L413.74 29.70 L415.76 29.62 L417.77 29.53 L419.79 29.45 L421.80 29.37 L423.82 29.29 L425.84 29.22 L427.85 29.14 L429.87 29.06 L431.89 28.99 L433.90 28.91 L435.92 28.84 L437.93 28.77 L439.95 28.70 L441.96 28.63 L443.98 28.56 L446.00 28.49 L448.01 28.42 L450.03 28.35 L452.04 28.29 L454.06 28.22 L456.07 28.15 L458.09 28.09 L460.10 28.03 L462.12 27.97 L464.13 27.90 L466.15 27.84 L468.16 27.78 L470.17 27.72 L472.19 27.67 L474.20 27.61 L476.22 27.55 L478.23 27.49 L480.24 27.44 L482.26 27.38 L484.27 27.33 L486.28 27.28 L488.29 27.22 L490.31 27.17 L492.32 27.12 L494.33 27.07 L496.34 27.02 L498.36 26.97 L500.37 26.92 L502.38 26.87 L504.39 26.82 L506.40 26.78 L508.41 26.73 L510.42 26.69 L512.43 26.64 L514.44 26.60 L516.45 26.55 L518.46 26.51 L520.47 26.47 L522.48 26.42 L524.48 26.38 L526.49 26.34 L528.50 26.30" stroke="#808080" stroke-dashoffset="10.16"/>
<path d="M69.80 149.79 L69.79 147.66 L69.78 145.54 L69.78 143.44 L69.78 141.35 L69.79 139.29 L69.80 137.23 L69.82 135.19 L69.84 133.15 L69.86 131.12 L69.89 129.10 L69.92 127.09 L69.96 125.08 L70.00 123.07 L70.04 121.05 L70.09 119.04 L70.15 117.02 L70.20 115.00 L70.26 112.97 L70.32 110.94 L70.39 108.89 L70.46 106.83 L70.54 104.76 L70.61 102.67 L70.69 100.56 L70.78 98.44 L70.86 96.29 L70.96 94.13 L71.08 91.97 L71.27 89.82 L71.56 87.73 L71.97 85.70 L72.54 83.76 L73.31 81.94 L74.30 80.26 L75.50 78.72 L76.88 77.30 L78.39 75.98 L79.99 74.75 L81.64 73.58 L83.33 72.48 L85.04 71.42 L86.79 70.43 L88.57 69.48 L90.37 68.58 L92.20 67.73 L94.06 66.92 L95.93 66.16 L97.83 65.43 L99.74 64.74 L101.68 64.08 L103.63 63.45 L105.59 62.86 L107.57 62.28 L109.56 61.74 L111.56 61.21 L113.57 60.71 L115.58 60.22 L117.60 59.74 L119.62 59.28 L121.65 58.82 L123.67 58.38 L125.69 57.94 L127.72 57.50 L129.74 57.07 L131.77 56.65 L133.80 56.24 L135.82 55.83 L137.85 55.42 L139.87 55.02 L141.90 54.63 L143.93 54.24 L145.95 53.86 L147.98 53.49 L150.01 53.12 L152.03 52.75 L154.06 52.40 L156.09 52.04 L158.11 51.69 L160.14 51.35 L162.17 51.01 L164.20 50.68 L166.23 50.35 L168.26 50.03 L170.28 49.71 L172.31 49.39 L174.34 49.08 L176.37 48.78 L178.40 48.48 L180.43 48.18 L182.46 47.89 L184.49 47.60 L186.52 47.32 L188.55 47.04 L190.59 46.77 L192.62 46.50 L194.65 46.23 L196.68 45.97 L198.71 45.71 L200.74 45.45 L202.78 45.20 L204.81 44.95 L206.84 44.70 L208.88 44.46 L210.91 44.22 L212.94 43.99 L214.98 43.76 L217.01 43.53 L219.05 43.30 L221.08 43.08 L223.12 42.86 L225.15 42.64 L227.19 42.43 L229.23 42.21 L231.26 42.00 L233.30 41.80 L235.34 41.59 L237.38 41.39 L239.41 41.19 L241.45 40.99 L243.49 40.80 L245.53 40.60 L247.57 40.41 L249.61 40.22 L251.65 40.03 L253.69 39.85 L255.73 39.66 L257.77 39.48 L259.81 39.30 L261.85 39.12 L263.89 38.94 L265.94 38.76 L267.98 38.59 L270.02 38.41 L272.07 38.24 L274.11 38.07 L276.15 37.90 L278.20 37.73 L280.24 37.57 L282.29 37.40 L284.33 37.24 L286.38 37.08 L288.42 36.91 L290.47 36.76 L292.51 36.60 L294.56 36.44 L296.61 36.29 L298.66 36.13 L300.70 35.98 L302.75 35.83 L304.80 35.68 L306.85 35.53 L308.89 35.39 L310.94 35.24 L312.99 35.10 L315.04 34.95 L317.09 34.81 L319.14 34.67 L321.19 34.53 L323.24 34.40 L325.29 34.26 L327.34 34.13 L329.39 33.99 L331.44 33.86 L333.49 33.73 L335.54 33.60 L337.59 33.47 L339.65 33.34 L341.70 33.22 L343.75 33.09 L345.80 32.97 L347.85 32.85 L349.90 32.73 L351.96 32.61 L354.01 32.49 L356.06 32.37 L358.11 32.26 L360.17 32.14 L362.22 32.03 L364.27 31.91 L366.33 31.80 L368.38 31.69 L370.43 31.58 L372.49 31.48 L374.54 31.37 L376.59 31.26 L378.65 31.16 L380.70 31.05 L382.76 30.95 L384.81 30.85 L386.86 30.75 L388.92 30.65 L390.97 30.55 L393.03 30.45 L395.08 30.36 L397.14 30.26 L399.19 30.17 L401.24 30.08 L403.30 29.98 L405.35 29.89 L407.41 29.80 L409.46 29.71 L411.52 29.63 L413.57 29.54 L415.63 29.45 L417.68 29.37 L419.74 29.28 L421.79 29.20 L423.84 29.12 L425.90 29.04 L427.95 28.96 L430.01 28.88 L432.06 28.80 L434.12 28.72 L436.17 28.64 L438.23 28.57 L440.28 28.49 L442.33 28.42 L444.39 28.35 L446.44 28.27 L448.50 28.20 L450.55 28.13 L452.60 28.06 L454.66 27.99 L456.71 27.92 L458.76 27.86 L460.82 27.79 L462.87 27.72 L464.93 27.66 L466.98 27.60 L469.03 27.53 L471.08 27.47 L473.14 27.41 L475.19 27.35 L477.24 27.29 L479.29 27.23 L481.35 27.17 L483.40 27.11 L485.45 27.05 L487.50 27.00 L489.55 26.94 L491.61 26.88 L493.66 26.83 L495.71 26.78 L497.76 26.72 L499.81 26.67 L501.86 26.62 L503.91 26.57 L505.96 26.52 L508.01 26.47 L510.06 26.42 L512.11 26.37 L514.16 26.32 L516.21 26.27 L518.26 26.23 L520.31 26.18 L522.36 26.13 L524.40 26.09 L526.45 26.04 L528.50 26.00" stroke="#00ff00" stroke-dashoffset="0.00"/>
</g>
<g>
<circle cx="413.20" cy="79.19" r="3.0" fill="#000000"/>
<circle cx="389.80" cy="82.40" r="3.0" fill="#ff0000"/>
<circle cx="341.00" cy="89.22" r="3.0" fill="#0000ff"/>
<circle cx="288.00" cy="97.69" r="3.0" fill="#800080"/>
<circle cx="228.40" cy="108.35" r="3.0" fill="#ff8000"/>
<circle cx="151.75" cy="124.99" r="3.0" fill="#996633"/>
<circle cx="91.50" cy="141.90" r="3.0" fill="#ff00ff"/>
<circle cx="74.80" cy="147.72" r="3.0" fill="#808080"/>
<circle cx="69.80" cy="149.79" r="3.0" fill="#00ff00"/>
</g>
<g fill="none" stroke="#000" stroke-width="1">
<path d="M67.50 295.80 v-5 M67.50 10.90 v5"/>
<path d="M90.55 295.80 v-3 M90.55 10.90 v3"/>
<path d="M113.60 295.80 v-3 M113.60 10.90 v3"/>
<path d="M136.65 295.80 v-3 M136.65 10.90 v3"/>
<path d="M159.70 295.80 v-3 M159.70 10.90 v3"/>
<path d="M182.75 295.80 v-5 M182.75 10.90 v5"/>
<path d="M205.80 295.80 v-3 M205.80 10.90 v3"/>
<path d="M228.85 295.80 v-3 M228.85 10.90 v3"/>
<path d="M251.90 295.80 v-3 M251.90 10.90 v3"/>
<path d="M274.95 295.80 v-3 M274.95 10.90 v3"/>
<path d="M298.00 295.80 v-5 M298.00 10.90 v5"/>
<path d="M321.05 295.80 v-3 M321.05 10.90 v3"/>
<path d="M344.10 295.80 v-3 M344.10 10.90 v3"/>
<path d="M367.15 295.80 v-3 M367.15 10.90 v3"/>
<path d="M390.20 295.80 v-3 M390.20 10.90 v3"/>
<path d="M413.25 295.80 v-5 M413.25 10.90 v5"/>
<path d="M436.30 295.80 v-3 M436.30 10.90 v3"/>
<path d="M459.35 295.80 v-3 M459.35 10.90 v3"/>
<path d="M482.40 295.80 v-3 M482.40 10.90 v3"/>
<path d="M505.45 295.80 v-3 M505.45 10.90 v3"/>
<path d="M528.50 295.80 v-5 M528.50 10.90 v5"/>
<path d="M67.50 295.80 h5 M528.50 295.80 h-5"/>
<path d="M67.50 281.56 h3 M528.50 281.56 h-3"/>
<path d="M67.50 267.31 h3 M528.50 267.31 h-3"/>
<path d="M67.50 253.06 h3 M528.50 253.06 h-3"/>
<path d="M67.50 238.82 h5 M528.50 238.82 h-5"/>
<path d="M67.50 224.57 h3 M528.50 224.57 h-3"/>
<path d="M67.50 210.33 h3 M528.50 210.33 h-3"/>
<path d="M67.50 196.08 h3 M528.50 196.08 h-3"/>
<path d="M67.50 181.84 h5 M528.50 181.84 h-5"/>
<path d="M67.50 167.59 h3 M528.50 167.59 h-3"/>
<path d="M67.50 153.35 h3 M528.50 153.35 h-3"/>
<path d="M67.50 139.10 h3 M528.50 139.10 h-3"/>
<path d="M67.50 124.86 h5 M528.50 124.86 h-5"/>
<path d="M67.50 110.61 h3 M528.50 110.61 h-3"/>
<path d="M67.50 96.37 h3 M528.50 96.37 h-3"/>
<path d="M67.50 82.12 h3 M528.50 82.12 h-3"/>
<path d="M67.50 67.88 h5 M528.50 67.88 h-5"/>
<path d="M67.50 53.63 h3 M528.50 53.63 h-3"/>
<path d="M67.50 39.39 h3 M528.50 39.39 h-3"/>
<path d="M67.50 25.14 h3 M528.50 25.14 h-3"/>
<path d="M67.50 10.90 h5 M528.50 10.90 h-5"/>
</g>
<g fill="none" stroke-width="1">
<path d="M67.50 10.90 H528.50 V295.80" stroke="#222"/>
<path d="M67.50 10.90 V295.80 H528.50" stroke="#777"/>
</g>
<g fill="#000" stroke="#000" stroke-width="0.3" opacity="0.999">
<text transform="translate(62.6,302.80) scale(1,1.06)" text-anchor="end" font-size="18">0.0</text>
<text transform="translate(62.6,245.82) scale(1,1.06)" text-anchor="end" font-size="18">0.2</text>
<text transform="translate(62.6,188.84) scale(1,1.06)" text-anchor="end" font-size="18">0.4</text>
<text transform="translate(62.6,131.86) scale(1,1.06)" text-anchor="end" font-size="18">0.6</text>
<text transform="translate(62.6,74.88) scale(1,1.06)" text-anchor="end" font-size="18">0.8</text>
<text transform="translate(62.6,17.90) scale(1,1.06)" text-anchor="end" font-size="18">.0</text>
<path transform="translate(37.58,17.90) scale(0.008789,-0.009316)" d="M763 0L583 0L583 1147Q518 1085 412.5 1023Q307 961 223 930L223 1104Q374 1175 487 1276Q600 1377 647 1472L763 1472Z" stroke-width="34.1"/>
<path transform="translate(62.50,317.70) scale(0.008789,-0.009316)" d="M763 0L583 0L583 1147Q518 1085 412.5 1023Q307 961 223 930L223 1104Q374 1175 487 1276Q600 1377 647 1472L763 1472Z" stroke-width="34.1"/>
<text transform="translate(182.75,317.7) scale(1,1.06)" text-anchor="middle" font-size="18">2</text>
<text transform="translate(298.00,317.7) scale(1,1.06)" text-anchor="middle" font-size="18">3</text>
<text transform="translate(413.25,317.7) scale(1,1.06)" text-anchor="middle" font-size="18">4</text>
<text transform="translate(528.50,317.7) scale(1,1.06)" text-anchor="middle" font-size="18">5</text>
<text x="290" y="353.5" font-size="24" font-style="italic">r<tspan font-size="17" dy="4">s</tspan></text>
<text transform="translate(22.5,160.5) rotate(-90)" font-size="24" font-style="italic">P</text>
</g>
</svg>
</body></html>
